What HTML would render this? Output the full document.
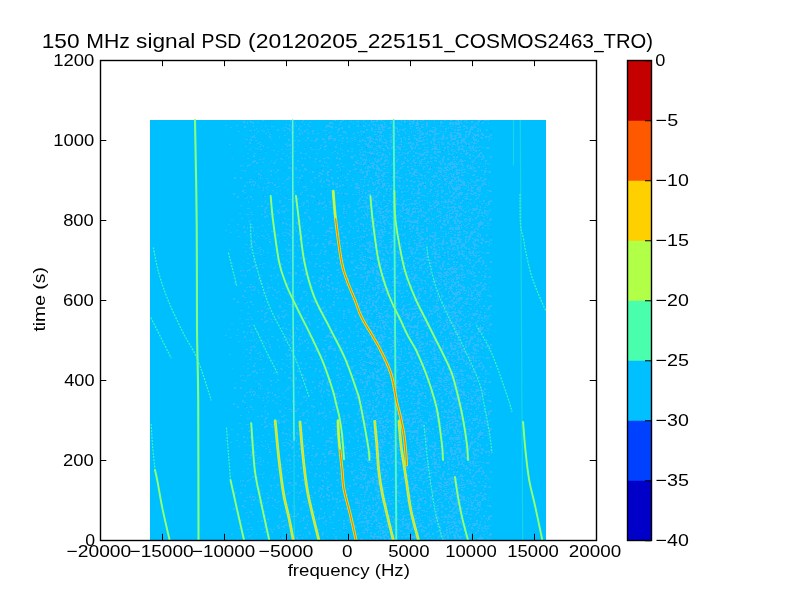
<!DOCTYPE html>
<html><head><meta charset="utf-8"><style>html,body{margin:0;padding:0;background:#fff;width:800px;height:600px;overflow:hidden}svg{display:block;will-change:transform}</style></head>
<body><svg width="800" height="600" viewBox="0 0 800 600"><rect x="150" y="120" width="396" height="420" fill="#00bfff"/><defs><pattern id="nz" patternUnits="userSpaceOnUse" x="205" y="120" width="287" height="105"><path d="M20 5h2v1h-2zM23 104h2v1h-2zM24 24h2v1h-2zM25 7h2v1h-2zM26 99h2v1h-2zM27 38h1v1h-1zM28 73h2v2h-2zM29 57h2v2h-2zM30 53h1v1h-1zM31 5h2v1h-2zM32 104h2v1h-2zM32 76h2v2h-2zM33 11h2v1h-2zM34 93h2v1h-2zM35 57h2v2h-2zM35 85h2v1h-2zM35 45h1v2h-1zM36 98h2v1h-2zM36 50h2v1h-2zM37 70h2v1h-2zM37 70h2v2h-2zM37 45h2v1h-2zM38 22h1v1h-1zM38 1h2v2h-2zM38 36h1v1h-1zM39 72h2v1h-2zM39 65h2v2h-2zM39 6h2v2h-2zM39 50h2v1h-2zM40 51h1v1h-1zM40 26h2v1h-2zM40 19h2v1h-2zM40 78h1v1h-1zM41 19h2v1h-2zM41 77h2v1h-2zM41 62h2v1h-2zM41 10h1v1h-1zM41 94h2v1h-2zM42 2h1v2h-1zM42 88h2v1h-2zM42 38h2v1h-2zM42 33h2v1h-2zM42 45h1v2h-1zM43 81h1v2h-1zM43 97h1v1h-1zM43 94h1v1h-1zM43 45h2v1h-2zM43 101h2v1h-2zM43 88h2v1h-2zM44 44h2v1h-2zM44 29h2v1h-2zM44 61h2v2h-2zM44 61h2v1h-2zM44 10h2v1h-2zM44 100h2v1h-2zM44 22h2v2h-2zM45 92h2v1h-2zM45 10h2v1h-2zM45 16h1v1h-1zM45 59h2v1h-2zM45 76h2v2h-2zM45 19h2v2h-2zM45 1h2v2h-2zM46 17h2v1h-2zM46 27h1v1h-1zM46 64h1v2h-1zM46 69h2v1h-2zM46 94h2v1h-2zM46 104h2v1h-2zM47 16h2v1h-2zM47 2h2v1h-2zM47 99h1v1h-1zM47 79h2v1h-2zM47 41h2v2h-2zM47 61h1v2h-1zM48 5h1v2h-1zM48 3h1v1h-1zM48 64h2v2h-2zM48 35h2v2h-2zM48 61h2v1h-2zM49 33h2v1h-2zM49 17h2v1h-2zM49 40h1v2h-1zM49 9h1v2h-1zM49 15h1v2h-1zM49 46h1v1h-1zM50 28h2v1h-2zM50 62h1v2h-1zM50 20h2v1h-2zM50 51h2v1h-2zM50 40h1v2h-1zM51 42h2v2h-2zM51 8h1v1h-1zM51 13h1v1h-1zM51 99h1v1h-1zM52 86h2v1h-2zM52 65h2v1h-2zM52 11h2v1h-2zM52 23h2v1h-2zM52 2h2v1h-2zM53 28h1v1h-1zM53 58h1v1h-1zM53 53h2v2h-2zM53 67h2v1h-2zM54 33h1v1h-1zM54 39h2v1h-2zM54 26h2v1h-2zM54 22h2v1h-2zM55 24h2v1h-2zM55 57h1v2h-1zM55 55h2v1h-2zM55 50h2v1h-2zM55 29h2v1h-2zM56 81h1v1h-1zM56 6h1v1h-1zM56 94h2v1h-2zM56 10h2v1h-2zM56 85h2v2h-2zM57 58h1v1h-1zM57 0h2v1h-2zM57 70h2v1h-2zM57 39h1v1h-1zM57 42h2v1h-2zM58 25h1v2h-1zM58 11h2v1h-2zM58 38h2v1h-2zM58 67h1v2h-1zM59 76h2v1h-2zM59 63h1v1h-1zM59 82h1v1h-1zM59 91h2v2h-2zM59 89h2v1h-2zM59 96h2v2h-2zM60 87h2v2h-2zM60 88h2v1h-2zM60 5h1v2h-1zM60 13h2v1h-2zM60 80h1v2h-1zM61 95h2v2h-2zM61 67h1v2h-1zM61 32h1v1h-1zM61 96h1v1h-1zM61 58h2v1h-2zM61 87h2v1h-2zM62 9h2v1h-2zM62 83h2v2h-2zM62 72h1v1h-1zM62 62h2v2h-2zM62 27h2v1h-2zM62 66h2v1h-2zM63 70h1v1h-1zM63 60h1v1h-1zM63 104h2v1h-2zM63 49h1v1h-1zM63 11h1v2h-1zM64 16h2v2h-2zM64 14h2v1h-2zM64 62h2v1h-2zM64 62h2v1h-2zM64 93h1v1h-1zM65 42h1v1h-1zM65 50h1v1h-1zM65 94h2v1h-2zM65 50h2v2h-2zM66 96h2v1h-2zM66 6h2v1h-2zM66 19h1v1h-1zM66 40h1v1h-1zM66 54h1v2h-1zM67 70h2v1h-2zM67 6h2v1h-2zM67 96h1v2h-1zM67 62h1v2h-1zM68 43h2v1h-2zM68 94h2v1h-2zM68 30h2v1h-2zM68 50h1v1h-1zM69 64h2v2h-2zM69 42h2v1h-2zM69 24h1v1h-1zM70 40h1v1h-1zM70 72h1v1h-1zM70 52h2v1h-2zM71 34h2v1h-2zM71 73h2v1h-2zM71 67h2v1h-2zM72 49h2v2h-2zM72 39h1v1h-1zM72 90h2v2h-2zM72 9h2v2h-2zM73 31h1v1h-1zM73 66h2v1h-2zM73 92h2v2h-2zM73 58h1v2h-1zM74 16h1v2h-1zM74 82h2v1h-2zM74 80h2v2h-2zM74 89h1v1h-1zM75 74h1v1h-1zM75 38h2v1h-2zM75 82h1v1h-1zM75 70h1v1h-1zM76 39h1v1h-1zM76 86h2v1h-2zM76 29h2v1h-2zM76 29h2v1h-2zM76 91h2v1h-2zM77 102h2v2h-2zM77 8h1v1h-1zM77 39h1v1h-1zM77 33h2v1h-2zM77 63h2v1h-2zM78 85h1v2h-1zM78 76h1v1h-1zM78 7h1v1h-1zM78 91h2v2h-2zM78 10h1v1h-1zM79 67h2v1h-2zM79 85h2v1h-2zM79 42h2v1h-2zM79 10h2v1h-2zM79 15h2v1h-2zM79 98h2v1h-2zM79 90h2v1h-2zM80 24h2v1h-2zM80 60h1v2h-1zM80 103h2v1h-2zM80 4h2v1h-2zM80 7h2v1h-2zM80 77h2v1h-2zM80 78h1v1h-1zM81 35h2v1h-2zM81 29h1v1h-1zM81 59h2v1h-2zM81 104h2v1h-2zM81 23h1v2h-1zM81 88h1v2h-1zM82 58h2v2h-2zM82 25h2v1h-2zM82 8h2v1h-2zM82 69h2v1h-2zM82 13h1v1h-1zM82 26h1v1h-1zM82 90h2v1h-2zM83 79h2v1h-2zM83 99h2v1h-2zM83 37h2v1h-2zM83 47h2v2h-2zM83 56h1v1h-1zM83 19h2v2h-2zM83 8h2v1h-2zM84 29h2v1h-2zM84 4h1v1h-1zM84 104h1v1h-1zM84 5h2v1h-2zM84 24h2v2h-2zM84 9h2v2h-2zM84 57h2v1h-2zM85 0h1v2h-1zM85 79h2v1h-2zM85 43h1v1h-1zM85 32h1v2h-1zM85 26h1v1h-1zM85 47h1v2h-1zM85 26h1v1h-1zM86 12h2v2h-2zM86 81h2v1h-2zM86 50h2v1h-2zM86 36h2v1h-2zM86 6h2v2h-2zM87 102h2v2h-2zM87 93h2v1h-2zM87 55h1v1h-1zM87 11h2v2h-2zM87 70h1v2h-1zM88 73h2v1h-2zM88 21h1v1h-1zM88 66h1v1h-1zM88 62h1v1h-1zM88 5h2v1h-2zM88 81h2v1h-2zM89 20h2v1h-2zM89 78h1v1h-1zM89 27h1v1h-1zM89 20h2v1h-2zM89 31h2v1h-2zM89 71h2v1h-2zM90 49h2v1h-2zM90 80h2v2h-2zM90 74h1v1h-1zM90 47h2v2h-2zM90 2h1v2h-1zM91 57h2v1h-2zM91 103h2v1h-2zM91 16h2v1h-2zM91 102h2v2h-2zM91 5h1v2h-1zM92 40h2v2h-2zM92 96h2v1h-2zM92 100h1v1h-1zM92 78h2v2h-2zM92 24h1v1h-1zM92 103h1v2h-1zM93 8h2v2h-2zM93 20h2v2h-2zM93 104h2v1h-2zM93 61h1v2h-1zM93 64h1v1h-1zM93 25h1v1h-1zM94 86h2v1h-2zM94 100h2v1h-2zM94 6h2v1h-2zM94 57h2v2h-2zM94 13h2v2h-2zM94 50h2v1h-2zM95 73h1v1h-1zM95 10h2v1h-2zM95 95h1v1h-1zM95 32h2v2h-2zM95 74h2v1h-2zM95 95h1v1h-1zM96 55h2v2h-2zM96 6h1v1h-1zM96 83h1v1h-1zM96 72h2v1h-2zM96 45h2v1h-2zM96 38h2v1h-2zM97 102h1v2h-1zM97 12h1v2h-1zM97 85h2v1h-2zM97 1h1v2h-1zM97 44h2v2h-2zM98 66h2v1h-2zM98 0h1v1h-1zM98 51h1v1h-1zM98 99h1v1h-1zM98 84h1v1h-1zM98 66h2v2h-2zM98 82h2v2h-2zM99 38h2v1h-2zM99 92h2v2h-2zM99 48h2v2h-2zM99 10h2v2h-2zM99 28h1v1h-1zM99 4h1v1h-1zM100 33h2v1h-2zM100 70h2v1h-2zM100 66h2v1h-2zM100 33h1v2h-1zM100 20h2v1h-2zM100 49h2v2h-2zM101 80h2v2h-2zM101 68h2v1h-2zM101 89h1v1h-1zM101 92h1v2h-1zM101 101h1v1h-1zM101 9h2v1h-2zM102 13h2v1h-2zM102 18h2v1h-2zM102 17h2v2h-2zM102 89h1v2h-1zM102 75h2v1h-2zM103 85h1v2h-1zM103 13h1v1h-1zM103 4h1v2h-1zM103 96h2v2h-2zM103 12h1v1h-1zM103 82h1v1h-1zM104 2h2v1h-2zM104 6h2v1h-2zM104 98h2v2h-2zM104 36h2v2h-2zM104 52h1v1h-1zM105 60h2v1h-2zM105 27h2v1h-2zM106 62h2v1h-2zM106 75h2v2h-2zM106 20h2v1h-2zM106 29h2v1h-2zM107 10h2v2h-2zM107 13h2v1h-2zM107 51h2v2h-2zM107 82h1v1h-1zM108 69h2v1h-2zM108 80h1v1h-1zM108 76h2v2h-2zM109 41h2v1h-2zM109 57h2v2h-2zM109 21h2v1h-2zM110 29h1v1h-1zM110 89h1v2h-1zM110 38h2v2h-2zM110 19h1v2h-1zM111 20h1v1h-1zM111 33h2v1h-2zM111 84h1v1h-1zM111 18h2v2h-2zM112 13h2v1h-2zM112 101h2v2h-2zM113 94h2v1h-2zM113 55h2v2h-2zM113 82h2v1h-2zM113 83h2v2h-2zM113 29h2v1h-2zM114 40h2v2h-2zM114 53h1v1h-1zM114 80h1v1h-1zM114 61h2v1h-2zM114 52h2v2h-2zM115 83h2v1h-2zM115 62h1v1h-1zM115 27h1v2h-1zM115 25h2v1h-2zM115 73h2v2h-2zM115 60h2v1h-2zM116 66h2v1h-2zM116 58h1v2h-1zM116 65h1v2h-1zM116 45h2v1h-2zM116 53h2v2h-2zM116 45h2v1h-2zM117 51h2v1h-2zM117 50h2v1h-2zM117 99h1v2h-1zM117 82h2v2h-2zM117 18h2v2h-2zM117 104h2v1h-2zM117 97h2v2h-2zM118 45h1v1h-1zM118 87h2v1h-2zM118 61h1v2h-1zM118 45h1v2h-1zM118 61h2v1h-2zM118 10h2v1h-2zM118 38h2v1h-2zM119 41h1v2h-1zM119 81h2v1h-2zM119 26h1v2h-1zM119 77h1v2h-1zM119 29h1v1h-1zM119 19h1v1h-1zM119 21h2v2h-2zM120 85h2v2h-2zM120 25h2v2h-2zM120 10h2v1h-2zM120 14h2v1h-2zM120 29h1v1h-1zM120 7h2v1h-2zM120 89h2v1h-2zM121 59h2v2h-2zM121 37h2v1h-2zM121 86h1v1h-1zM121 5h2v2h-2zM121 42h1v2h-1zM121 96h1v1h-1zM121 53h2v1h-2zM122 46h2v1h-2zM122 70h1v1h-1zM122 54h2v2h-2zM122 37h2v1h-2zM122 51h2v2h-2zM122 64h2v1h-2zM122 101h1v1h-1zM123 16h2v2h-2zM123 5h2v2h-2zM123 51h2v2h-2zM123 38h1v1h-1zM123 60h2v2h-2zM123 64h2v2h-2zM123 18h2v2h-2zM124 87h1v1h-1zM124 81h2v2h-2zM124 12h2v1h-2zM124 17h2v2h-2zM124 38h1v1h-1zM124 2h2v2h-2zM125 6h2v2h-2zM125 15h2v2h-2zM125 49h2v2h-2zM125 84h1v1h-1zM125 70h1v1h-1zM126 87h2v1h-2zM126 11h1v1h-1zM126 2h2v2h-2zM126 57h2v2h-2zM126 6h2v2h-2zM126 18h2v1h-2zM127 63h2v2h-2zM127 32h1v2h-1zM127 7h1v2h-1zM127 79h1v1h-1zM127 93h2v1h-2zM127 62h2v1h-2zM128 93h2v1h-2zM128 18h1v1h-1zM128 20h2v1h-2zM128 99h2v1h-2zM128 72h2v1h-2zM128 79h2v2h-2zM128 76h2v2h-2zM129 19h2v1h-2zM129 31h2v1h-2zM129 77h1v1h-1zM129 0h2v1h-2zM129 20h2v1h-2zM129 18h2v1h-2zM130 103h2v2h-2zM130 63h2v2h-2zM130 70h2v1h-2zM130 96h2v1h-2zM130 7h2v1h-2zM130 26h2v2h-2zM130 101h2v1h-2zM131 45h1v1h-1zM131 66h2v2h-2zM131 64h2v1h-2zM131 24h1v1h-1zM131 37h2v2h-2zM131 51h2v1h-2zM131 63h2v1h-2zM132 10h1v1h-1zM132 44h2v2h-2zM132 12h1v1h-1zM132 72h2v2h-2zM132 33h2v1h-2zM132 57h2v2h-2zM132 32h1v1h-1zM133 10h1v1h-1zM133 47h2v1h-2zM133 8h2v2h-2zM133 15h2v1h-2zM133 72h1v2h-1zM133 85h2v1h-2zM133 20h2v1h-2zM134 4h2v1h-2zM134 70h1v1h-1zM134 65h2v2h-2zM134 61h1v1h-1zM134 96h1v1h-1zM134 38h2v2h-2zM134 83h1v1h-1zM135 15h2v1h-2zM135 56h1v1h-1zM135 1h2v2h-2zM135 102h1v1h-1zM135 28h1v2h-1zM135 95h1v1h-1zM135 49h1v2h-1zM135 43h2v1h-2zM136 18h2v1h-2zM136 23h2v1h-2zM136 18h2v1h-2zM136 73h2v1h-2zM136 33h2v1h-2zM136 61h1v1h-1zM136 7h2v2h-2zM137 36h1v1h-1zM137 46h2v1h-2zM137 30h1v1h-1zM137 20h1v2h-1zM137 18h2v1h-2zM137 64h2v2h-2zM137 0h2v1h-2zM137 55h1v1h-1zM138 17h1v2h-1zM138 91h1v1h-1zM138 11h2v2h-2zM138 35h1v1h-1zM138 85h2v2h-2zM138 88h2v2h-2zM138 92h1v2h-1zM139 97h2v1h-2zM139 34h1v1h-1zM139 46h1v1h-1zM139 73h2v1h-2zM139 57h2v1h-2zM139 91h1v1h-1zM140 73h1v1h-1zM140 93h2v1h-2zM140 11h1v2h-1zM140 13h2v1h-2zM140 3h1v1h-1zM141 73h2v2h-2zM141 56h1v1h-1zM141 91h1v1h-1zM141 59h2v2h-2zM141 35h1v1h-1zM141 17h2v2h-2zM142 85h2v1h-2zM142 21h1v2h-1zM142 53h2v2h-2zM142 50h1v1h-1zM142 30h2v2h-2zM143 102h2v1h-2zM143 6h2v2h-2zM143 87h2v1h-2zM143 84h2v1h-2zM143 67h1v1h-1zM144 50h2v2h-2zM144 5h1v2h-1zM144 86h2v1h-2zM144 103h1v2h-1zM145 1h2v1h-2zM145 36h1v1h-1zM145 21h1v1h-1zM145 65h2v1h-2zM146 18h2v1h-2zM146 37h2v2h-2zM146 31h2v1h-2zM146 36h2v2h-2zM146 28h2v1h-2zM147 58h2v1h-2zM147 60h2v1h-2zM147 28h1v2h-1zM147 74h2v1h-2zM147 20h1v1h-1zM148 36h1v1h-1zM148 2h1v2h-1zM148 44h2v2h-2zM148 49h2v1h-2zM148 13h2v1h-2zM149 19h2v1h-2zM149 17h2v1h-2zM149 35h2v1h-2zM149 95h2v1h-2zM149 90h2v2h-2zM149 13h1v1h-1zM150 63h2v2h-2zM150 100h2v2h-2zM150 48h2v2h-2zM150 92h2v1h-2zM150 67h2v2h-2zM150 41h1v2h-1zM150 63h2v1h-2zM151 102h1v1h-1zM151 74h1v1h-1zM151 42h2v2h-2zM151 41h1v1h-1zM151 1h1v1h-1zM151 63h2v2h-2zM151 68h2v1h-2zM151 66h2v2h-2zM152 5h2v2h-2zM152 1h2v1h-2zM152 12h2v1h-2zM152 83h2v2h-2zM152 24h2v1h-2zM152 98h2v2h-2zM152 67h2v1h-2zM152 40h2v1h-2zM152 65h1v1h-1zM153 43h2v1h-2zM153 67h2v2h-2zM153 24h2v1h-2zM153 72h2v1h-2zM153 80h2v2h-2zM153 52h1v1h-1zM153 88h2v1h-2zM153 3h1v1h-1zM153 70h2v1h-2zM153 68h2v1h-2zM154 15h1v1h-1zM154 65h1v1h-1zM154 21h2v1h-2zM154 78h2v1h-2zM154 87h2v1h-2zM154 30h2v1h-2zM154 34h2v1h-2zM154 74h1v1h-1zM154 79h2v1h-2zM154 50h2v1h-2zM154 79h1v1h-1zM154 20h2v1h-2zM155 104h2v1h-2zM155 32h2v1h-2zM155 49h2v2h-2zM155 52h2v1h-2zM155 62h1v1h-1zM155 21h2v1h-2zM155 37h2v2h-2zM155 42h2v1h-2zM155 83h1v1h-1zM155 44h2v1h-2zM155 59h2v1h-2zM155 103h1v1h-1zM155 11h1v1h-1zM156 71h2v1h-2zM156 103h1v1h-1zM156 27h2v1h-2zM156 74h1v1h-1zM156 64h1v1h-1zM156 86h1v2h-1zM156 76h2v2h-2zM156 68h1v1h-1zM156 27h1v1h-1zM156 11h2v1h-2zM156 97h2v1h-2zM156 90h1v2h-1zM156 29h2v1h-2zM156 13h1v2h-1zM157 97h2v1h-2zM157 39h1v1h-1zM157 104h2v1h-2zM157 51h2v2h-2zM157 86h2v2h-2zM157 52h1v2h-1zM157 59h1v1h-1zM157 80h1v1h-1zM157 34h2v2h-2zM157 86h1v1h-1zM157 20h2v1h-2zM157 19h2v2h-2zM157 39h2v2h-2zM157 72h1v2h-1zM157 66h2v1h-2zM158 0h1v2h-1zM158 5h2v2h-2zM158 31h2v1h-2zM158 40h1v1h-1zM158 11h2v2h-2zM158 95h2v1h-2zM158 11h2v1h-2zM158 43h2v2h-2zM158 80h2v1h-2zM158 86h2v1h-2zM158 65h1v1h-1zM158 5h2v2h-2zM158 69h1v2h-1zM158 33h1v1h-1zM158 44h2v1h-2zM158 39h1v1h-1zM159 61h1v2h-1zM159 65h2v1h-2zM159 82h2v2h-2zM159 90h1v2h-1zM159 42h2v1h-2zM159 97h1v2h-1zM159 76h2v1h-2zM159 62h1v1h-1zM159 35h2v1h-2zM159 39h2v1h-2zM159 56h2v2h-2zM159 21h2v1h-2zM159 59h2v1h-2zM159 42h2v2h-2zM159 82h2v1h-2zM160 41h1v1h-1zM160 82h2v2h-2zM160 93h2v2h-2zM160 31h1v1h-1zM160 3h2v1h-2zM160 23h2v2h-2zM160 87h1v1h-1zM160 39h2v2h-2zM160 23h2v1h-2zM160 47h1v2h-1zM160 32h1v1h-1zM160 72h2v2h-2zM160 6h1v1h-1zM160 93h1v1h-1zM160 80h1v1h-1zM160 20h1v1h-1zM160 51h1v1h-1zM161 78h2v1h-2zM161 9h2v1h-2zM161 53h2v1h-2zM161 85h1v2h-1zM161 37h1v1h-1zM161 86h2v2h-2zM161 10h2v1h-2zM161 54h2v2h-2zM161 51h2v2h-2zM161 103h1v2h-1zM161 77h2v1h-2zM161 53h2v1h-2zM161 17h2v1h-2zM161 81h1v1h-1zM161 94h2v2h-2zM162 47h2v2h-2zM162 46h2v1h-2zM162 50h2v1h-2zM162 25h2v2h-2zM162 32h2v1h-2zM162 85h2v2h-2zM162 70h2v1h-2zM162 89h1v2h-1zM162 75h2v1h-2zM162 86h1v1h-1zM162 64h2v2h-2zM162 96h1v2h-1zM162 92h2v1h-2zM162 87h2v2h-2zM162 24h2v1h-2zM162 17h2v2h-2zM163 47h1v1h-1zM163 27h2v1h-2zM163 17h2v1h-2zM163 25h2v1h-2zM163 45h1v1h-1zM163 32h1v1h-1zM163 94h2v1h-2zM163 5h2v1h-2zM163 70h2v2h-2zM163 86h1v1h-1zM163 88h2v1h-2zM163 74h2v1h-2zM163 62h1v1h-1zM163 23h1v2h-1zM164 85h2v1h-2zM164 32h2v2h-2zM164 19h2v2h-2zM164 4h1v1h-1zM164 104h2v2h-2zM164 60h1v2h-1zM164 50h1v2h-1zM164 46h2v2h-2zM164 16h2v2h-2zM164 21h2v2h-2zM164 73h2v1h-2zM164 40h1v1h-1zM164 42h1v1h-1zM164 77h1v2h-1zM164 85h1v1h-1zM165 33h2v2h-2zM165 74h1v2h-1zM165 71h1v1h-1zM165 81h2v2h-2zM165 101h2v1h-2zM165 18h2v1h-2zM165 97h2v2h-2zM165 81h1v1h-1zM165 91h2v1h-2zM165 43h2v1h-2zM165 100h2v2h-2zM165 31h1v1h-1zM165 26h1v2h-1zM165 57h2v2h-2zM165 21h2v1h-2zM166 32h2v2h-2zM166 43h1v1h-1zM166 10h2v1h-2zM166 45h2v1h-2zM166 88h2v2h-2zM166 8h2v1h-2zM166 21h2v1h-2zM166 2h1v1h-1zM166 25h2v1h-2zM166 82h1v1h-1zM166 7h1v2h-1zM166 9h2v1h-2zM166 0h1v1h-1zM166 1h2v1h-2zM166 27h2v1h-2zM167 62h2v2h-2zM167 43h1v1h-1zM167 101h1v1h-1zM167 42h2v2h-2zM167 59h1v1h-1zM167 72h2v1h-2zM167 78h2v2h-2zM167 20h1v1h-1zM167 18h2v1h-2zM167 46h2v1h-2zM167 75h2v1h-2zM167 77h2v1h-2zM167 79h2v2h-2zM167 4h2v1h-2zM167 70h2v1h-2zM167 46h2v2h-2zM168 1h2v1h-2zM168 103h2v1h-2zM168 29h2v1h-2zM168 79h1v1h-1zM168 64h1v2h-1zM168 33h2v1h-2zM168 22h2v1h-2zM168 44h2v1h-2zM168 63h1v2h-1zM168 102h2v1h-2zM168 101h1v1h-1zM168 1h1v2h-1zM168 86h2v1h-2zM168 48h2v1h-2zM168 80h1v1h-1zM168 33h2v1h-2zM168 45h1v1h-1zM169 38h2v1h-2zM169 101h1v1h-1zM169 98h2v1h-2zM169 31h1v1h-1zM169 76h2v1h-2zM169 100h1v2h-1zM169 99h2v1h-2zM169 14h1v1h-1zM169 38h1v2h-1zM169 12h1v1h-1zM169 11h2v1h-2zM169 85h2v1h-2zM169 4h2v1h-2zM169 80h2v1h-2zM169 64h2v1h-2zM170 40h1v1h-1zM170 62h1v2h-1zM170 22h1v2h-1zM170 81h2v2h-2zM170 14h2v1h-2zM170 9h2v1h-2zM170 28h2v1h-2zM170 22h1v1h-1zM170 5h1v2h-1zM170 101h2v1h-2zM170 41h2v1h-2zM170 69h2v2h-2zM170 52h2v2h-2zM170 54h2v2h-2zM170 19h2v1h-2zM170 77h2v1h-2zM170 93h2v1h-2zM170 84h1v1h-1zM171 91h1v1h-1zM171 41h2v2h-2zM171 85h2v1h-2zM171 0h2v2h-2zM171 60h2v1h-2zM171 48h1v2h-1zM171 48h2v2h-2zM171 67h2v2h-2zM171 41h1v2h-1zM171 85h1v2h-1zM171 33h2v2h-2zM171 75h2v2h-2zM171 18h1v2h-1zM171 26h2v1h-2zM171 30h2v1h-2zM171 84h2v1h-2zM171 83h1v1h-1zM171 104h2v1h-2zM171 89h2v1h-2zM171 45h2v2h-2zM172 11h2v1h-2zM172 57h2v1h-2zM172 61h2v1h-2zM172 19h1v2h-1zM172 62h2v2h-2zM172 47h2v1h-2zM172 32h1v2h-1zM172 73h2v1h-2zM172 39h2v2h-2zM172 41h2v1h-2zM172 56h1v2h-1zM172 11h1v1h-1zM172 101h2v2h-2zM172 5h2v1h-2zM172 5h2v1h-2zM172 55h2v2h-2zM172 45h1v1h-1zM172 16h2v1h-2zM172 91h2v1h-2zM172 26h2v1h-2zM173 50h2v1h-2zM173 82h1v1h-1zM173 59h2v2h-2zM173 53h2v1h-2zM173 56h2v1h-2zM173 96h1v2h-1zM173 25h2v2h-2zM173 87h2v2h-2zM173 49h2v1h-2zM173 9h2v1h-2zM173 11h1v2h-1zM173 87h1v2h-1zM173 7h2v2h-2zM173 74h1v1h-1zM173 80h1v1h-1zM173 66h1v1h-1zM173 35h2v1h-2zM173 49h2v2h-2zM173 71h2v2h-2zM173 87h1v1h-1zM173 48h2v2h-2zM174 6h1v2h-1zM174 59h2v1h-2zM174 18h2v1h-2zM174 90h2v2h-2zM174 40h1v2h-1zM174 72h2v1h-2zM174 101h2v1h-2zM174 26h2v2h-2zM174 93h2v1h-2zM174 7h1v1h-1zM174 15h1v1h-1zM174 9h2v1h-2zM174 92h2v2h-2zM174 63h1v2h-1zM174 95h2v1h-2zM174 20h1v2h-1zM174 12h2v1h-2zM174 11h1v1h-1zM174 32h2v1h-2zM174 19h1v2h-1zM174 20h2v1h-2zM175 102h2v2h-2zM175 19h2v1h-2zM175 27h1v2h-1zM175 50h1v1h-1zM175 82h2v1h-2zM175 88h1v1h-1zM175 93h1v1h-1zM175 51h1v1h-1zM175 15h2v1h-2zM175 67h2v1h-2zM175 44h1v1h-1zM175 11h1v1h-1zM175 38h2v2h-2zM175 11h1v1h-1zM175 98h1v2h-1zM175 4h2v2h-2zM175 0h2v1h-2zM175 84h2v1h-2zM175 44h2v1h-2zM175 95h2v1h-2zM175 38h1v2h-1zM175 12h2v2h-2zM176 50h2v1h-2zM176 65h2v1h-2zM176 89h1v1h-1zM176 45h1v1h-1zM176 93h1v1h-1zM176 11h2v1h-2zM176 61h2v1h-2zM176 13h1v1h-1zM176 34h2v2h-2zM176 59h1v1h-1zM176 5h2v1h-2zM176 25h2v1h-2zM176 16h1v2h-1zM176 6h2v2h-2zM176 88h2v1h-2zM176 21h1v1h-1zM176 54h2v2h-2zM176 37h2v1h-2zM176 74h1v1h-1zM177 65h2v1h-2zM177 9h2v1h-2zM177 5h1v2h-1zM177 22h2v1h-2zM177 97h2v2h-2zM177 1h2v1h-2zM177 4h1v1h-1zM177 65h2v1h-2zM177 44h1v1h-1zM177 28h2v1h-2zM177 8h1v1h-1zM177 67h2v1h-2zM177 81h1v1h-1zM177 6h2v1h-2zM177 91h2v2h-2zM177 63h2v2h-2zM177 33h2v1h-2zM177 95h2v2h-2zM177 55h2v2h-2zM177 65h2v2h-2zM178 80h1v1h-1zM178 100h2v1h-2zM178 75h2v2h-2zM178 63h2v2h-2zM178 6h2v2h-2zM178 101h2v2h-2zM178 43h2v1h-2zM178 29h2v2h-2zM178 43h2v2h-2zM178 54h2v1h-2zM178 77h1v1h-1zM178 60h2v1h-2zM178 58h1v1h-1zM178 10h2v1h-2zM178 79h1v1h-1zM178 34h1v2h-1zM178 52h2v2h-2zM178 15h1v2h-1zM178 48h1v1h-1zM179 46h1v1h-1zM179 104h2v1h-2zM179 40h2v2h-2zM179 22h1v1h-1zM179 103h2v1h-2zM179 86h1v2h-1zM179 96h2v2h-2zM179 96h2v2h-2zM179 65h2v1h-2zM179 37h2v1h-2zM179 80h2v1h-2zM179 103h2v1h-2zM179 63h2v1h-2zM179 2h1v2h-1zM179 48h2v1h-2zM179 19h2v2h-2zM179 4h2v1h-2zM180 34h1v1h-1zM180 73h2v1h-2zM180 22h2v2h-2zM180 35h2v1h-2zM180 69h1v1h-1zM180 52h2v1h-2zM180 86h2v1h-2zM180 90h2v2h-2zM180 41h1v2h-1zM180 6h2v1h-2zM180 25h2v1h-2zM180 94h2v1h-2zM180 6h2v1h-2zM180 99h2v2h-2zM180 39h2v1h-2zM180 56h2v1h-2zM181 40h2v1h-2zM181 26h2v1h-2zM181 52h2v1h-2zM181 40h1v1h-1zM181 68h2v2h-2zM181 85h2v1h-2zM181 46h2v1h-2zM181 36h2v1h-2zM181 98h1v1h-1zM181 89h2v1h-2zM181 46h2v1h-2zM181 70h1v2h-1zM181 52h2v1h-2zM181 21h2v1h-2zM182 88h1v1h-1zM182 101h2v1h-2zM182 63h2v1h-2zM182 91h1v2h-1zM182 52h2v1h-2zM182 43h2v1h-2zM182 8h2v1h-2zM182 85h1v2h-1zM182 27h2v2h-2zM182 86h1v1h-1zM182 96h1v2h-1zM182 36h1v2h-1zM182 83h2v1h-2zM183 90h2v2h-2zM183 91h1v2h-1zM183 65h2v2h-2zM183 28h2v1h-2zM183 66h1v1h-1zM183 41h1v1h-1zM183 97h1v1h-1zM183 7h2v2h-2zM183 103h1v1h-1zM183 59h1v1h-1zM183 80h2v1h-2zM184 71h1v1h-1zM184 103h2v2h-2zM184 28h1v1h-1zM184 34h2v1h-2zM184 80h2v2h-2zM184 14h2v1h-2zM184 75h2v1h-2zM184 7h2v2h-2zM184 32h1v2h-1zM184 17h2v1h-2zM184 90h2v1h-2zM185 14h2v1h-2zM185 24h1v2h-1zM185 2h2v1h-2zM185 95h1v1h-1zM185 96h2v1h-2zM185 2h2v2h-2zM185 2h1v1h-1zM185 1h2v2h-2zM185 68h2v2h-2zM185 20h2v2h-2zM185 45h2v1h-2zM185 22h2v1h-2zM186 91h2v1h-2zM186 19h2v1h-2zM186 10h2v1h-2zM186 16h1v2h-1zM186 65h2v1h-2zM186 84h1v1h-1zM186 104h2v1h-2zM186 92h2v1h-2zM186 27h2v2h-2zM186 3h1v1h-1zM187 73h2v1h-2zM187 43h2v2h-2zM187 26h2v1h-2zM187 12h2v1h-2zM187 56h2v2h-2zM187 81h2v2h-2zM187 97h1v2h-1zM187 6h2v1h-2zM187 86h2v1h-2zM187 60h2v1h-2zM187 15h2v2h-2zM188 102h1v1h-1zM188 100h2v1h-2zM188 94h2v1h-2zM188 25h1v1h-1zM188 51h1v1h-1zM188 5h2v2h-2zM188 52h2v1h-2zM188 2h2v1h-2zM188 90h1v1h-1zM188 67h1v2h-1zM188 13h2v1h-2zM188 0h1v1h-1zM188 10h2v2h-2zM189 102h2v1h-2zM189 84h2v2h-2zM189 50h2v1h-2zM189 26h1v1h-1zM189 103h2v1h-2zM189 83h2v1h-2zM189 14h2v1h-2zM189 45h2v1h-2zM189 30h1v1h-1zM189 38h2v1h-2zM189 77h2v1h-2zM189 0h1v1h-1zM189 87h2v2h-2zM190 52h2v2h-2zM190 97h2v1h-2zM190 7h2v2h-2zM190 87h1v1h-1zM190 7h1v2h-1zM190 56h2v2h-2zM190 48h1v1h-1zM190 83h2v1h-2zM190 96h2v1h-2zM190 29h2v1h-2zM190 42h1v1h-1zM190 101h1v2h-1zM191 40h2v2h-2zM191 8h2v1h-2zM191 20h1v2h-1zM191 84h2v1h-2zM191 52h2v2h-2zM191 80h1v2h-1zM191 36h1v2h-1zM191 91h1v1h-1zM191 78h2v1h-2zM191 95h2v1h-2zM191 32h1v1h-1zM191 26h2v1h-2zM191 83h2v2h-2zM191 83h1v2h-1zM192 9h1v2h-1zM192 1h1v1h-1zM192 71h1v2h-1zM192 65h2v1h-2zM192 57h1v1h-1zM192 50h2v2h-2zM192 56h2v1h-2zM192 58h2v1h-2zM192 3h2v1h-2zM192 26h2v2h-2zM192 79h1v1h-1zM192 11h1v2h-1zM192 39h2v1h-2zM192 18h2v1h-2zM193 32h2v1h-2zM193 28h1v1h-1zM193 34h1v1h-1zM193 92h1v1h-1zM193 94h2v1h-2zM193 66h2v1h-2zM193 101h1v1h-1zM193 97h1v1h-1zM193 28h2v1h-2zM193 60h2v1h-2zM193 84h2v1h-2zM193 3h2v1h-2zM193 14h2v2h-2zM193 11h2v1h-2zM194 29h2v1h-2zM194 24h1v1h-1zM194 60h1v1h-1zM194 9h2v1h-2zM194 27h2v2h-2zM194 48h1v1h-1zM194 67h1v1h-1zM194 65h2v1h-2zM194 61h2v1h-2zM194 58h2v1h-2zM194 57h2v1h-2zM194 35h2v1h-2zM194 90h2v1h-2zM194 65h1v2h-1zM194 65h1v2h-1zM195 68h2v1h-2zM195 85h2v1h-2zM195 18h2v1h-2zM195 47h2v2h-2zM195 29h1v2h-1zM195 92h1v1h-1zM195 4h2v1h-2zM195 24h2v2h-2zM195 21h1v1h-1zM195 29h1v1h-1zM195 95h2v2h-2zM195 79h1v1h-1zM195 25h2v1h-2zM196 96h2v1h-2zM196 43h2v2h-2zM196 72h2v1h-2zM196 0h1v2h-1zM196 77h2v1h-2zM196 91h2v1h-2zM196 71h1v1h-1zM196 19h1v2h-1zM196 41h1v1h-1zM196 21h1v2h-1zM196 101h2v1h-2zM196 84h1v1h-1zM196 34h2v1h-2zM196 55h1v1h-1zM197 96h1v1h-1zM197 67h2v1h-2zM197 83h2v2h-2zM197 57h1v1h-1zM197 75h2v1h-2zM197 71h1v1h-1zM197 32h2v1h-2zM197 88h2v2h-2zM197 46h2v1h-2zM197 9h2v2h-2zM197 87h2v1h-2zM197 102h1v1h-1zM197 86h2v2h-2zM198 41h1v1h-1zM198 26h2v1h-2zM198 17h2v1h-2zM198 90h2v1h-2zM198 98h2v1h-2zM198 81h1v1h-1zM198 65h1v1h-1zM198 82h1v1h-1zM198 42h2v2h-2zM198 90h2v1h-2zM198 61h2v1h-2zM198 99h1v1h-1zM198 80h2v2h-2zM199 90h2v1h-2zM199 38h2v1h-2zM199 8h2v1h-2zM199 98h2v1h-2zM199 1h2v2h-2zM199 71h2v1h-2zM199 0h1v1h-1zM199 0h1v1h-1zM199 10h1v1h-1zM199 42h1v2h-1zM199 37h2v2h-2zM199 33h2v1h-2zM200 33h1v1h-1zM200 89h2v1h-2zM200 93h2v1h-2zM200 18h1v2h-1zM200 71h1v1h-1zM200 54h2v1h-2zM200 29h2v1h-2zM200 12h1v2h-1zM200 101h2v1h-2zM200 101h1v2h-1zM200 84h2v2h-2zM200 1h1v2h-1zM201 58h1v1h-1zM201 66h2v1h-2zM201 65h2v1h-2zM201 88h2v2h-2zM201 23h1v1h-1zM201 33h1v1h-1zM201 59h2v2h-2zM201 89h2v1h-2zM201 92h2v1h-2zM201 40h1v1h-1zM201 65h1v1h-1zM201 80h1v1h-1zM202 100h2v2h-2zM202 46h2v2h-2zM202 39h1v1h-1zM202 79h2v1h-2zM202 32h2v2h-2zM202 40h2v2h-2zM202 90h2v2h-2zM202 92h2v2h-2zM202 98h2v1h-2zM202 35h1v1h-1zM202 71h1v1h-1zM202 79h1v1h-1zM203 84h2v1h-2zM203 18h2v2h-2zM203 94h1v1h-1zM203 98h2v1h-2zM203 89h1v1h-1zM203 68h2v1h-2zM203 22h2v1h-2zM203 46h1v1h-1zM203 70h1v1h-1zM203 94h2v1h-2zM203 23h2v1h-2zM203 50h2v1h-2zM203 16h2v1h-2zM204 104h2v1h-2zM204 3h2v2h-2zM204 89h1v2h-1zM204 22h2v2h-2zM204 87h1v2h-1zM204 0h1v2h-1zM204 100h2v2h-2zM204 4h2v1h-2zM204 104h2v1h-2zM204 79h2v1h-2zM204 14h1v1h-1zM204 52h2v2h-2zM204 31h2v1h-2zM205 96h1v1h-1zM205 83h2v1h-2zM205 39h1v1h-1zM205 43h2v1h-2zM205 22h2v1h-2zM205 95h2v2h-2zM205 6h2v1h-2zM205 60h2v2h-2zM205 27h2v1h-2zM205 8h1v1h-1zM205 3h1v1h-1zM205 78h1v1h-1zM205 25h2v2h-2zM205 102h2v1h-2zM206 73h2v1h-2zM206 93h2v2h-2zM206 73h1v2h-1zM206 66h1v1h-1zM206 1h2v1h-2zM206 46h2v1h-2zM206 84h2v1h-2zM206 72h1v1h-1zM206 55h1v2h-1zM206 11h1v2h-1zM206 65h2v1h-2zM206 101h2v2h-2zM206 28h2v2h-2zM206 48h2v2h-2zM207 41h2v1h-2zM207 23h2v2h-2zM207 1h2v1h-2zM207 48h2v1h-2zM207 83h2v1h-2zM207 46h1v1h-1zM207 2h2v2h-2zM207 27h2v1h-2zM207 71h1v1h-1zM207 56h1v1h-1zM207 88h2v2h-2zM207 53h1v2h-1zM207 6h1v1h-1zM207 91h1v2h-1zM207 68h2v1h-2zM208 77h1v1h-1zM208 92h2v1h-2zM208 91h2v2h-2zM208 54h2v1h-2zM208 0h2v1h-2zM208 101h2v2h-2zM208 40h2v1h-2zM208 69h2v1h-2zM208 31h1v1h-1zM208 52h2v2h-2zM208 39h1v2h-1zM208 10h1v1h-1zM208 15h2v1h-2zM208 61h2v2h-2zM208 35h2v2h-2zM208 75h2v1h-2zM209 45h2v1h-2zM209 51h1v1h-1zM209 42h2v2h-2zM209 50h2v1h-2zM209 73h2v1h-2zM209 100h2v1h-2zM209 80h2v2h-2zM209 55h2v1h-2zM209 83h2v2h-2zM209 87h1v2h-1zM209 51h2v2h-2zM209 28h2v1h-2zM209 51h2v1h-2zM209 17h1v2h-1zM209 61h2v1h-2zM209 66h1v1h-1zM209 101h2v2h-2zM210 32h2v2h-2zM210 100h2v1h-2zM210 49h1v1h-1zM210 80h2v1h-2zM210 42h2v1h-2zM210 88h2v1h-2zM210 26h1v2h-1zM210 18h2v1h-2zM210 55h2v1h-2zM210 92h1v1h-1zM210 11h1v1h-1zM210 5h2v1h-2zM210 49h2v1h-2zM210 90h1v2h-1zM210 38h1v1h-1zM210 15h1v1h-1zM210 88h2v1h-2zM211 23h1v2h-1zM211 25h2v1h-2zM211 55h2v1h-2zM211 57h1v1h-1zM211 86h2v1h-2zM211 19h2v2h-2zM211 7h2v2h-2zM211 4h2v2h-2zM211 73h1v1h-1zM211 2h2v2h-2zM211 50h2v1h-2zM211 100h2v2h-2zM211 22h2v1h-2zM211 82h1v2h-1zM211 100h2v2h-2zM211 102h2v1h-2zM211 24h2v1h-2zM211 52h2v1h-2zM212 78h1v1h-1zM212 24h2v1h-2zM212 100h2v1h-2zM212 88h2v1h-2zM212 71h2v2h-2zM212 73h2v1h-2zM212 10h2v1h-2zM212 97h1v2h-1zM212 37h2v2h-2zM212 0h1v2h-1zM212 13h2v1h-2zM212 77h2v1h-2zM212 103h2v1h-2zM212 83h2v1h-2zM212 92h2v1h-2zM212 33h2v1h-2zM212 65h2v2h-2zM212 73h2v2h-2zM212 58h2v1h-2zM213 60h1v1h-1zM213 18h2v1h-2zM213 69h2v2h-2zM213 45h2v1h-2zM213 33h2v1h-2zM213 3h1v1h-1zM213 4h1v1h-1zM213 91h1v2h-1zM213 77h1v1h-1zM213 97h1v2h-1zM213 64h2v1h-2zM213 28h2v1h-2zM213 7h1v1h-1zM213 78h2v1h-2zM213 68h2v1h-2zM213 53h2v1h-2zM213 95h2v1h-2zM213 61h2v1h-2zM213 20h2v2h-2zM214 21h1v1h-1zM214 34h2v1h-2zM214 63h2v1h-2zM214 12h2v1h-2zM214 17h2v2h-2zM214 42h2v2h-2zM214 40h1v1h-1zM214 15h2v1h-2zM214 72h2v2h-2zM214 81h1v2h-1zM214 85h2v1h-2zM214 77h1v1h-1zM214 90h1v2h-1zM214 8h2v1h-2zM214 9h1v2h-1zM214 15h1v2h-1zM214 36h1v1h-1zM214 91h2v1h-2zM215 11h2v1h-2zM215 88h1v2h-1zM215 90h2v2h-2zM215 1h2v1h-2zM215 28h1v1h-1zM215 34h2v2h-2zM215 41h2v1h-2zM215 89h1v1h-1zM215 89h2v1h-2zM215 34h2v1h-2zM215 84h1v1h-1zM215 54h2v2h-2zM215 20h2v2h-2zM215 17h2v1h-2zM215 18h1v1h-1zM215 14h2v1h-2zM215 64h2v2h-2zM215 63h2v1h-2zM216 7h1v1h-1zM216 96h1v1h-1zM216 45h1v1h-1zM216 75h2v1h-2zM216 97h1v1h-1zM216 6h2v2h-2zM216 4h2v1h-2zM216 33h1v1h-1zM216 43h2v1h-2zM216 39h1v2h-1zM216 57h1v2h-1zM216 39h2v1h-2zM216 13h2v2h-2zM216 21h2v1h-2zM216 94h2v2h-2zM216 80h1v1h-1zM217 13h2v2h-2zM217 24h2v1h-2zM217 85h1v1h-1zM217 58h1v1h-1zM217 0h2v1h-2zM217 12h1v1h-1zM217 87h2v1h-2zM217 34h2v2h-2zM217 4h2v1h-2zM217 55h1v1h-1zM217 7h2v1h-2zM217 80h1v1h-1zM217 62h2v1h-2zM217 63h2v1h-2zM217 75h2v1h-2zM218 23h2v2h-2zM218 91h1v1h-1zM218 30h1v1h-1zM218 92h2v1h-2zM218 46h2v2h-2zM218 20h2v1h-2zM218 16h1v2h-1zM218 30h2v1h-2zM218 33h2v1h-2zM218 48h1v2h-1zM218 19h1v1h-1zM218 39h2v1h-2zM218 95h2v2h-2zM219 100h2v2h-2zM219 66h1v1h-1zM219 16h2v1h-2zM219 75h1v2h-1zM219 55h2v2h-2zM219 68h2v1h-2zM219 80h2v1h-2zM219 66h2v1h-2zM219 65h2v1h-2zM219 37h2v2h-2zM219 32h2v1h-2zM219 27h2v1h-2zM220 58h2v1h-2zM220 93h2v1h-2zM220 100h2v2h-2zM220 32h2v1h-2zM220 34h2v1h-2zM220 52h1v1h-1zM220 67h2v1h-2zM220 29h2v1h-2zM220 92h2v2h-2zM220 13h2v1h-2zM220 62h1v2h-1zM220 43h2v1h-2zM221 19h2v1h-2zM221 45h2v1h-2zM221 31h2v1h-2zM221 6h2v1h-2zM221 98h2v2h-2zM221 34h2v2h-2zM221 76h2v1h-2zM221 23h2v1h-2zM221 14h2v1h-2zM221 4h2v2h-2zM221 2h2v2h-2zM222 12h1v2h-1zM222 30h1v1h-1zM222 73h2v1h-2zM222 41h2v2h-2zM222 11h2v1h-2zM222 27h2v1h-2zM222 46h1v1h-1zM222 51h1v2h-1zM222 31h2v2h-2zM222 81h1v2h-1zM222 103h2v1h-2zM223 59h1v1h-1zM223 59h1v2h-1zM223 99h2v1h-2zM223 49h1v1h-1zM223 97h2v1h-2zM223 11h2v1h-2zM223 88h1v1h-1zM223 52h2v1h-2zM223 89h2v2h-2zM223 91h1v1h-1zM224 47h2v2h-2zM224 49h2v1h-2zM224 71h2v1h-2zM224 10h2v2h-2zM224 14h2v2h-2zM224 82h2v1h-2zM224 14h2v1h-2zM224 84h1v2h-1zM224 46h2v1h-2zM224 101h2v1h-2zM225 41h2v1h-2zM225 63h2v1h-2zM225 69h1v1h-1zM225 88h1v1h-1zM225 64h1v2h-1zM225 21h2v2h-2zM225 37h2v2h-2zM225 61h2v2h-2zM225 35h2v1h-2zM225 69h2v2h-2zM225 85h2v2h-2zM225 72h1v1h-1zM226 21h1v2h-1zM226 10h2v2h-2zM226 88h2v2h-2zM226 103h1v1h-1zM226 66h1v1h-1zM226 29h2v1h-2zM226 88h2v2h-2zM226 23h1v1h-1zM226 43h2v1h-2zM226 92h1v1h-1zM226 37h2v1h-2zM226 94h1v1h-1zM226 56h2v1h-2zM227 7h2v1h-2zM227 11h2v2h-2zM227 76h1v1h-1zM227 59h2v1h-2zM227 28h2v1h-2zM227 65h1v1h-1zM227 50h1v1h-1zM227 56h2v1h-2zM227 64h2v1h-2zM227 98h2v2h-2zM227 26h1v1h-1zM227 84h2v1h-2zM227 19h2v1h-2zM227 64h1v1h-1zM228 73h1v1h-1zM228 81h1v1h-1zM228 75h2v1h-2zM228 103h1v1h-1zM228 17h2v2h-2zM228 80h1v2h-1zM228 37h2v1h-2zM228 86h2v1h-2zM228 86h2v1h-2zM228 12h1v1h-1zM228 19h2v1h-2zM228 55h2v1h-2zM228 23h2v2h-2zM228 20h2v2h-2zM228 56h2v2h-2zM228 12h1v1h-1zM229 82h2v1h-2zM229 27h2v2h-2zM229 29h2v1h-2zM229 47h1v1h-1zM229 82h1v2h-1zM229 32h2v2h-2zM229 7h2v1h-2zM229 26h1v1h-1zM229 11h2v1h-2zM229 0h2v1h-2zM229 31h2v1h-2zM229 28h1v1h-1zM229 13h2v2h-2zM229 2h1v1h-1zM229 40h2v1h-2zM229 68h2v1h-2zM229 9h2v2h-2zM229 86h2v2h-2zM230 60h2v1h-2zM230 52h1v2h-1zM230 27h2v2h-2zM230 71h2v1h-2zM230 80h2v2h-2zM230 24h2v1h-2zM230 55h2v2h-2zM230 26h1v2h-1zM230 56h2v1h-2zM230 29h2v1h-2zM230 85h1v1h-1zM230 37h2v2h-2zM230 20h1v1h-1zM230 8h2v1h-2zM230 47h2v1h-2zM230 81h2v2h-2zM230 15h1v2h-1zM231 56h2v1h-2zM231 29h2v1h-2zM231 82h2v1h-2zM231 96h2v1h-2zM231 75h1v2h-1zM231 25h1v1h-1zM231 78h2v1h-2zM231 66h1v1h-1zM231 34h1v1h-1zM231 53h1v1h-1zM231 84h2v2h-2zM231 97h1v1h-1zM231 13h2v1h-2zM231 104h1v1h-1zM231 19h2v1h-2zM231 104h1v2h-1zM231 66h1v1h-1zM231 53h2v1h-2zM231 40h1v2h-1zM232 84h2v1h-2zM232 14h1v1h-1zM232 88h1v2h-1zM232 35h2v1h-2zM232 73h2v1h-2zM232 74h2v1h-2zM232 81h2v2h-2zM232 102h2v1h-2zM232 47h1v1h-1zM232 64h2v2h-2zM232 31h2v2h-2zM232 76h1v1h-1zM232 32h2v1h-2zM232 70h2v1h-2zM232 71h1v1h-1zM232 90h1v1h-1zM232 78h1v1h-1zM232 91h2v1h-2zM232 102h1v1h-1zM232 83h2v2h-2zM233 50h2v2h-2zM233 47h2v2h-2zM233 83h2v1h-2zM233 51h2v1h-2zM233 18h2v1h-2zM233 59h1v1h-1zM233 95h1v2h-1zM233 22h2v1h-2zM233 58h2v1h-2zM233 47h1v2h-1zM233 21h1v1h-1zM233 67h1v1h-1zM233 13h2v1h-2zM233 70h1v1h-1zM233 36h2v1h-2zM233 50h1v1h-1zM233 59h1v1h-1zM233 48h1v1h-1zM233 29h2v1h-2zM233 75h1v1h-1zM234 64h1v1h-1zM234 27h1v1h-1zM234 91h2v2h-2zM234 18h2v1h-2zM234 59h2v1h-2zM234 24h1v2h-1zM234 100h2v2h-2zM234 55h1v1h-1zM234 41h1v2h-1zM234 13h1v1h-1zM234 95h2v1h-2zM234 55h2v1h-2zM234 59h2v1h-2zM234 88h2v1h-2zM234 31h2v2h-2zM234 90h1v1h-1zM234 63h2v1h-2zM234 42h2v1h-2zM234 5h2v1h-2zM235 57h1v1h-1zM235 2h2v2h-2zM235 11h2v1h-2zM235 99h1v2h-1zM235 43h2v2h-2zM235 50h1v2h-1zM235 1h2v1h-2zM235 55h1v1h-1zM235 1h1v1h-1zM235 54h2v2h-2zM235 47h1v2h-1zM235 40h1v1h-1zM235 52h2v1h-2zM235 67h2v1h-2zM235 51h2v1h-2zM235 93h2v1h-2zM235 97h2v1h-2zM236 76h2v2h-2zM236 60h1v1h-1zM236 48h1v1h-1zM236 77h2v1h-2zM236 69h1v2h-1zM236 72h2v1h-2zM236 70h2v2h-2zM236 18h2v2h-2zM236 81h2v1h-2zM236 85h1v1h-1zM236 89h1v1h-1zM236 82h1v1h-1zM236 48h1v2h-1zM236 67h2v1h-2zM236 18h1v1h-1zM236 49h2v1h-2zM236 22h2v1h-2zM236 2h2v1h-2zM237 15h1v1h-1zM237 70h2v2h-2zM237 42h1v1h-1zM237 38h2v2h-2zM237 15h2v2h-2zM237 62h1v1h-1zM237 19h2v1h-2zM237 6h2v1h-2zM237 23h2v2h-2zM237 103h2v1h-2zM237 40h2v2h-2zM237 18h2v2h-2zM237 103h2v2h-2zM237 17h2v1h-2zM237 15h1v1h-1zM237 39h2v1h-2zM238 86h2v2h-2zM238 13h1v1h-1zM238 23h1v1h-1zM238 96h1v1h-1zM238 51h1v1h-1zM238 84h1v1h-1zM238 14h1v1h-1zM238 30h2v1h-2zM238 100h2v2h-2zM238 16h2v1h-2zM238 36h2v2h-2zM238 55h2v1h-2zM238 81h2v1h-2zM238 11h1v1h-1zM238 56h2v1h-2zM238 50h1v1h-1zM238 98h2v1h-2zM239 0h2v1h-2zM239 43h2v2h-2zM239 81h2v2h-2zM239 50h2v1h-2zM239 65h1v1h-1zM239 59h2v2h-2zM239 79h1v1h-1zM239 81h2v1h-2zM239 102h1v1h-1zM239 104h2v1h-2zM239 27h2v1h-2zM239 52h2v1h-2zM239 87h2v1h-2zM239 28h2v1h-2zM239 47h2v2h-2zM239 58h2v1h-2zM240 8h2v2h-2zM240 95h2v1h-2zM240 73h2v2h-2zM240 80h2v2h-2zM240 54h2v1h-2zM240 63h2v1h-2zM240 63h2v2h-2zM240 6h1v1h-1zM240 100h1v1h-1zM240 99h2v1h-2zM240 52h2v1h-2zM240 8h1v2h-1zM240 11h2v1h-2zM240 104h2v1h-2zM240 18h2v1h-2zM240 28h1v1h-1zM241 94h2v2h-2zM241 47h2v1h-2zM241 59h1v1h-1zM241 58h2v1h-2zM241 17h2v2h-2zM241 50h2v1h-2zM241 46h2v1h-2zM241 81h1v2h-1zM241 56h2v1h-2zM241 92h2v1h-2zM241 73h2v1h-2zM241 92h2v1h-2zM241 61h2v1h-2zM241 48h1v1h-1zM241 96h1v2h-1zM241 49h2v2h-2zM242 100h2v2h-2zM242 26h2v1h-2zM242 27h2v1h-2zM242 88h2v1h-2zM242 97h1v2h-1zM242 102h2v2h-2zM242 26h2v2h-2zM242 23h2v1h-2zM242 50h2v1h-2zM242 44h2v1h-2zM242 22h2v2h-2zM242 47h2v1h-2zM242 38h2v2h-2zM242 82h2v1h-2zM242 86h2v2h-2zM242 84h2v1h-2zM242 29h2v1h-2zM243 43h1v2h-1zM243 39h2v1h-2zM243 34h1v1h-1zM243 81h2v1h-2zM243 23h2v1h-2zM243 57h2v1h-2zM243 66h2v1h-2zM243 79h2v2h-2zM243 63h2v1h-2zM243 33h2v2h-2zM243 31h1v1h-1zM243 67h1v1h-1zM243 63h2v1h-2zM243 7h1v2h-1zM243 54h2v1h-2zM243 91h2v1h-2zM243 44h1v1h-1zM243 67h1v2h-1zM244 48h1v1h-1zM244 97h2v1h-2zM244 61h2v1h-2zM244 98h2v1h-2zM244 62h1v1h-1zM244 15h2v1h-2zM244 95h1v2h-1zM244 43h1v1h-1zM244 71h2v2h-2zM244 87h1v1h-1zM244 69h1v1h-1zM244 49h2v1h-2zM244 43h2v2h-2zM244 24h2v1h-2zM244 44h2v2h-2zM244 93h1v2h-1zM244 90h2v1h-2zM244 2h2v1h-2zM244 76h2v1h-2zM244 3h2v2h-2zM245 17h2v1h-2zM245 81h2v2h-2zM245 16h2v1h-2zM245 0h2v1h-2zM245 64h1v1h-1zM245 93h1v1h-1zM245 63h2v1h-2zM245 65h2v1h-2zM245 53h2v1h-2zM245 14h2v2h-2zM245 12h2v2h-2zM245 42h1v1h-1zM245 6h2v1h-2zM245 61h2v2h-2zM245 93h1v1h-1zM245 93h2v1h-2zM245 87h2v1h-2zM245 21h1v1h-1zM245 26h2v1h-2zM246 15h2v2h-2zM246 82h2v2h-2zM246 18h2v2h-2zM246 34h2v1h-2zM246 96h2v2h-2zM246 42h2v2h-2zM246 55h1v2h-1zM246 66h2v1h-2zM246 47h2v2h-2zM246 2h2v2h-2zM246 63h2v1h-2zM246 46h1v1h-1zM246 19h1v2h-1zM246 59h2v1h-2zM246 30h2v1h-2zM246 89h2v1h-2zM246 29h1v1h-1zM246 75h2v2h-2zM246 18h1v1h-1zM246 8h2v1h-2zM246 60h2v1h-2zM246 75h1v1h-1zM247 91h2v1h-2zM247 56h2v1h-2zM247 41h1v1h-1zM247 23h2v2h-2zM247 93h1v1h-1zM247 2h1v1h-1zM247 79h1v2h-1zM247 4h2v1h-2zM247 26h1v1h-1zM247 19h2v1h-2zM247 74h2v1h-2zM247 92h1v1h-1zM247 56h1v2h-1zM247 24h2v1h-2zM247 92h2v1h-2zM247 97h2v1h-2zM247 50h1v1h-1zM247 54h2v1h-2zM247 67h2v2h-2zM247 34h1v1h-1zM247 46h2v1h-2zM247 76h1v1h-1zM247 43h2v2h-2zM247 86h2v2h-2zM248 33h1v1h-1zM248 37h2v1h-2zM248 31h2v1h-2zM248 86h2v1h-2zM248 72h2v2h-2zM248 5h1v1h-1zM248 67h1v2h-1zM248 55h1v1h-1zM248 69h2v1h-2zM248 39h2v1h-2zM248 99h2v2h-2zM248 12h2v1h-2zM248 77h2v2h-2zM248 36h2v1h-2zM248 29h1v1h-1zM248 44h2v1h-2zM248 43h2v1h-2zM248 80h2v2h-2zM248 22h2v1h-2zM248 3h1v1h-1zM248 60h1v2h-1zM248 53h2v1h-2zM248 47h1v1h-1zM248 18h1v2h-1zM248 23h1v1h-1zM249 88h1v2h-1zM249 101h2v2h-2zM249 84h2v1h-2zM249 57h1v1h-1zM249 16h2v1h-2zM249 41h2v1h-2zM249 102h1v2h-1zM249 58h2v1h-2zM249 68h2v2h-2zM249 15h2v1h-2zM249 19h2v1h-2zM249 2h2v1h-2zM249 90h2v1h-2zM249 18h2v1h-2zM249 47h2v1h-2zM249 58h2v2h-2zM249 43h2v1h-2zM249 12h2v1h-2zM249 45h2v2h-2zM249 87h2v2h-2zM249 46h2v1h-2zM249 9h2v2h-2zM249 24h2v1h-2zM249 103h2v1h-2zM249 69h1v1h-1zM249 68h1v1h-1zM250 17h2v1h-2zM250 103h2v1h-2zM250 6h1v1h-1zM250 96h1v1h-1zM250 98h1v1h-1zM250 97h2v2h-2zM250 61h2v1h-2zM250 100h1v2h-1zM250 71h2v1h-2zM250 4h2v1h-2zM250 87h2v1h-2zM250 76h2v2h-2zM250 83h1v2h-1zM250 91h2v1h-2zM250 70h1v1h-1zM250 91h2v1h-2zM250 3h2v1h-2zM250 15h2v1h-2zM250 51h2v1h-2zM250 57h2v1h-2zM250 68h2v1h-2zM250 67h2v2h-2zM250 93h1v1h-1zM250 15h2v1h-2zM250 69h2v2h-2zM250 30h1v1h-1zM251 53h2v2h-2zM251 49h2v2h-2zM251 94h2v2h-2zM251 21h2v1h-2zM251 36h2v1h-2zM251 78h2v1h-2zM251 64h1v2h-1zM251 62h1v1h-1zM251 94h2v2h-2zM251 0h2v1h-2zM251 49h2v1h-2zM251 43h2v2h-2zM251 39h1v1h-1zM251 2h2v1h-2zM251 93h2v1h-2zM251 13h1v1h-1zM251 52h2v1h-2zM251 32h2v1h-2zM251 68h2v2h-2zM251 46h1v2h-1zM251 90h2v2h-2zM251 96h1v1h-1zM251 37h2v1h-2zM251 74h1v1h-1zM251 67h2v1h-2zM252 9h2v2h-2zM252 12h1v1h-1zM252 100h2v1h-2zM252 22h2v2h-2zM252 66h2v2h-2zM252 99h2v1h-2zM252 73h1v1h-1zM252 3h2v2h-2zM252 7h1v1h-1zM252 52h2v2h-2zM252 24h1v2h-1zM252 91h2v1h-2zM252 56h2v2h-2zM252 22h2v1h-2zM252 3h2v1h-2zM252 7h2v1h-2zM252 75h1v1h-1zM252 9h2v2h-2zM252 29h1v1h-1zM252 14h2v1h-2zM252 60h1v1h-1zM252 20h2v1h-2zM252 23h2v1h-2zM252 12h2v2h-2zM252 13h1v2h-1zM252 101h2v1h-2zM253 52h2v1h-2zM253 17h2v1h-2zM253 59h2v2h-2zM253 76h2v1h-2zM253 28h2v2h-2zM253 30h1v1h-1zM253 50h2v1h-2zM253 83h1v1h-1zM253 42h1v1h-1zM253 60h1v2h-1zM253 85h2v1h-2zM253 74h1v2h-1zM253 3h2v2h-2zM253 96h2v1h-2zM253 26h2v2h-2zM253 69h2v1h-2zM253 0h1v1h-1zM253 64h1v1h-1zM253 1h2v2h-2zM253 13h1v1h-1zM253 53h2v1h-2zM253 2h2v2h-2zM253 57h1v2h-1zM253 86h2v2h-2zM253 73h2v2h-2zM254 44h1v1h-1zM254 9h2v1h-2zM254 14h2v1h-2zM254 101h1v1h-1zM254 49h1v2h-1zM254 66h1v1h-1zM254 15h2v1h-2zM254 88h2v1h-2zM254 102h2v2h-2zM254 67h2v2h-2zM254 10h1v1h-1zM254 41h2v1h-2zM254 7h2v1h-2zM254 64h2v1h-2zM254 66h1v1h-1zM254 52h1v2h-1zM254 29h2v1h-2zM254 94h2v2h-2zM254 72h2v1h-2zM254 13h2v2h-2zM254 6h2v1h-2zM254 78h1v1h-1zM254 16h2v2h-2zM255 50h1v1h-1zM255 82h2v2h-2zM255 22h2v1h-2zM255 59h1v1h-1zM255 29h2v1h-2zM255 73h2v2h-2zM255 101h2v1h-2zM255 93h2v2h-2zM255 14h1v2h-1zM255 16h1v1h-1zM255 0h2v1h-2zM255 33h2v1h-2zM255 17h2v1h-2zM255 41h1v1h-1zM255 39h2v2h-2zM255 0h2v1h-2zM255 60h2v2h-2zM255 104h2v1h-2zM255 64h2v2h-2zM255 0h2v1h-2zM255 86h1v2h-1zM256 73h2v1h-2zM256 14h1v1h-1zM256 25h2v1h-2zM256 25h2v1h-2zM256 86h2v1h-2zM256 52h1v1h-1zM256 23h1v1h-1zM256 19h2v2h-2zM256 67h2v1h-2zM256 21h1v1h-1zM256 50h1v1h-1zM256 40h2v2h-2zM256 28h1v2h-1zM256 2h1v2h-1zM256 72h2v1h-2zM256 47h1v2h-1zM256 43h2v2h-2zM256 54h2v2h-2zM256 88h1v2h-1zM257 81h1v1h-1zM257 27h1v2h-1zM257 29h2v1h-2zM257 90h1v1h-1zM257 52h2v1h-2zM257 55h2v1h-2zM257 63h2v1h-2zM257 45h2v1h-2zM257 20h2v1h-2zM257 62h2v1h-2zM257 21h2v1h-2zM257 61h2v1h-2zM257 49h2v1h-2zM257 80h2v1h-2zM257 36h1v1h-1zM257 41h2v1h-2zM257 101h1v1h-1zM257 26h2v1h-2zM257 49h1v2h-1zM258 5h2v2h-2zM258 30h2v2h-2zM258 18h2v2h-2zM258 95h2v1h-2zM258 62h2v1h-2zM258 47h1v1h-1zM258 29h1v1h-1zM258 62h2v2h-2zM258 26h2v1h-2zM258 64h2v2h-2zM258 9h1v1h-1zM258 104h1v1h-1zM258 61h2v1h-2zM258 63h1v1h-1zM258 89h1v2h-1zM258 77h1v1h-1zM258 59h1v1h-1zM259 92h2v1h-2zM259 78h2v1h-2zM259 76h1v1h-1zM259 21h1v2h-1zM259 65h2v1h-2zM259 1h1v1h-1zM259 68h2v1h-2zM259 6h2v1h-2zM259 49h2v1h-2zM259 99h2v1h-2zM259 64h1v1h-1zM259 40h2v1h-2zM259 100h1v1h-1zM259 51h1v2h-1zM259 8h1v1h-1zM259 20h1v2h-1zM260 6h2v1h-2zM260 98h2v2h-2zM260 91h2v1h-2zM260 16h2v2h-2zM260 74h2v1h-2zM260 11h2v2h-2zM260 51h1v1h-1zM260 33h2v2h-2zM260 6h2v1h-2zM260 101h2v1h-2zM260 15h1v1h-1zM260 0h2v1h-2zM260 88h1v1h-1zM260 22h2v2h-2zM260 14h1v1h-1zM261 77h1v1h-1zM261 78h2v2h-2zM261 14h1v1h-1zM261 6h1v2h-1zM261 32h2v1h-2zM261 45h2v1h-2zM261 30h1v2h-1zM261 7h2v2h-2zM261 73h2v2h-2zM261 23h1v2h-1zM261 74h2v1h-2zM261 2h2v1h-2zM261 76h2v1h-2zM261 11h2v1h-2zM261 65h1v2h-1zM262 104h2v1h-2zM262 32h1v1h-1zM262 47h1v1h-1zM262 86h2v1h-2zM262 33h2v1h-2zM262 46h1v1h-1zM262 74h1v1h-1zM262 32h1v1h-1zM262 73h2v1h-2zM262 53h2v1h-2zM262 36h1v1h-1zM262 62h2v1h-2zM262 70h2v1h-2zM263 11h2v1h-2zM263 48h2v1h-2zM263 64h1v1h-1zM263 66h1v2h-1zM263 44h1v2h-1zM263 69h1v1h-1zM263 82h1v1h-1zM263 103h2v1h-2zM263 23h2v2h-2zM263 15h1v2h-1zM263 99h2v1h-2zM263 13h2v2h-2zM263 96h2v1h-2zM263 90h1v2h-1zM263 27h1v1h-1zM264 69h2v1h-2zM264 10h2v2h-2zM264 100h2v2h-2zM264 63h2v1h-2zM264 38h2v1h-2zM264 35h2v1h-2zM264 29h1v1h-1zM264 46h2v1h-2zM264 34h2v1h-2zM264 98h2v1h-2zM264 12h2v1h-2zM264 99h2v1h-2zM264 79h2v1h-2zM264 26h2v2h-2zM264 89h2v1h-2zM264 37h1v2h-1zM265 59h2v1h-2zM265 70h2v1h-2zM265 48h1v1h-1zM265 9h2v1h-2zM265 30h2v1h-2zM265 83h1v2h-1zM265 83h2v1h-2zM265 47h2v2h-2zM265 73h2v1h-2zM265 69h2v1h-2zM265 45h1v2h-1zM265 7h2v2h-2zM265 28h2v1h-2zM265 79h2v1h-2zM265 65h1v1h-1zM265 37h1v2h-1zM266 97h1v1h-1zM266 6h2v2h-2zM266 8h2v2h-2zM266 49h2v1h-2zM266 67h2v2h-2zM266 1h2v2h-2zM266 74h1v1h-1zM266 92h2v2h-2zM266 1h1v2h-1zM266 7h2v2h-2zM266 66h1v1h-1zM266 47h1v1h-1zM266 70h2v2h-2zM266 71h1v1h-1zM266 61h2v1h-2zM266 68h1v1h-1zM266 41h2v1h-2zM266 22h2v1h-2zM267 26h2v1h-2zM267 104h2v1h-2zM267 88h2v1h-2zM267 67h2v1h-2zM267 55h1v1h-1zM267 17h2v1h-2zM267 70h1v1h-1zM267 13h2v1h-2zM267 41h2v2h-2zM267 7h2v1h-2zM267 99h2v1h-2zM267 44h1v1h-1zM267 46h1v1h-1zM267 27h2v2h-2zM267 35h2v1h-2zM267 90h2v1h-2zM267 74h2v1h-2zM268 54h2v1h-2zM268 61h1v1h-1zM268 23h2v1h-2zM268 29h1v1h-1zM268 89h2v2h-2zM268 32h1v1h-1zM268 54h2v2h-2zM268 94h1v1h-1zM268 47h1v2h-1zM268 51h1v1h-1zM268 65h2v1h-2zM268 16h1v2h-1zM268 30h2v1h-2zM268 55h1v1h-1zM268 47h2v2h-2zM268 40h2v1h-2zM268 18h2v2h-2zM268 25h1v1h-1zM268 73h2v1h-2zM269 5h1v1h-1zM269 19h2v1h-2zM269 19h2v2h-2zM269 83h1v1h-1zM269 39h1v1h-1zM269 81h1v1h-1zM269 90h2v1h-2zM269 65h2v1h-2zM269 50h2v2h-2zM269 88h2v2h-2zM269 90h2v1h-2zM269 23h2v1h-2zM269 6h2v2h-2zM269 4h1v2h-1zM269 72h2v1h-2zM269 21h1v2h-1zM269 14h2v2h-2zM269 22h1v1h-1zM269 62h1v1h-1zM270 27h1v1h-1zM270 75h2v1h-2zM270 89h2v1h-2zM270 61h2v1h-2zM270 73h2v1h-2zM270 50h2v2h-2zM270 97h2v2h-2zM270 63h1v1h-1zM270 43h2v1h-2zM270 79h2v1h-2zM270 37h2v2h-2zM270 79h1v1h-1zM270 30h2v2h-2zM270 16h1v1h-1zM270 28h1v1h-1zM270 97h2v1h-2zM270 3h2v1h-2zM270 64h1v2h-1zM270 23h2v1h-2zM271 88h2v2h-2zM271 69h2v1h-2zM271 78h1v2h-1zM271 88h2v1h-2zM271 59h1v1h-1zM271 60h1v1h-1zM271 65h2v1h-2zM271 51h1v1h-1zM271 60h2v2h-2zM271 98h1v1h-1zM271 36h2v1h-2zM271 26h1v1h-1zM271 19h1v2h-1zM271 85h2v2h-2zM271 85h2v1h-2zM271 56h2v1h-2zM271 14h1v2h-1zM272 11h2v1h-2zM272 95h2v1h-2zM272 77h2v1h-2zM272 10h2v2h-2zM272 8h2v1h-2zM272 59h2v2h-2zM272 2h2v1h-2zM272 103h2v1h-2zM272 67h2v2h-2zM272 61h1v1h-1zM272 92h2v1h-2zM272 71h1v1h-1zM272 4h2v1h-2zM272 96h2v1h-2zM272 27h2v1h-2zM272 60h1v1h-1zM272 14h2v2h-2zM272 21h2v1h-2zM273 67h1v1h-1zM273 15h1v2h-1zM273 78h1v1h-1zM273 47h2v1h-2zM273 36h2v1h-2zM273 30h2v1h-2zM273 74h2v1h-2zM273 104h1v1h-1zM273 69h2v2h-2zM273 0h2v2h-2zM273 95h1v2h-1zM273 75h2v1h-2zM273 20h1v1h-1zM273 46h2v1h-2zM273 34h2v2h-2zM273 93h2v1h-2zM274 60h2v1h-2zM274 71h2v1h-2zM274 104h2v1h-2zM274 91h1v1h-1zM274 9h2v1h-2zM274 69h2v1h-2zM274 102h2v2h-2zM274 67h2v1h-2zM274 66h2v2h-2zM274 33h2v1h-2zM274 89h2v2h-2zM274 81h2v1h-2zM274 0h2v1h-2zM274 26h2v1h-2zM274 36h2v1h-2zM275 102h2v1h-2zM275 32h2v1h-2zM275 57h2v2h-2zM275 33h2v1h-2zM275 103h1v2h-1zM275 86h1v2h-1zM275 67h1v2h-1zM275 100h1v2h-1zM275 43h1v1h-1zM275 103h2v1h-2zM275 17h1v1h-1zM275 10h1v2h-1zM276 17h2v2h-2zM276 95h2v1h-2zM276 73h1v2h-1zM276 65h2v1h-2zM276 39h2v1h-2zM276 83h2v1h-2zM276 92h2v2h-2zM276 13h2v2h-2zM276 92h2v2h-2zM276 13h2v1h-2zM276 50h2v1h-2zM276 103h2v2h-2zM277 35h1v2h-1zM277 3h1v1h-1zM277 2h2v1h-2zM277 38h2v1h-2zM277 27h2v1h-2zM277 60h2v2h-2zM277 15h2v1h-2zM277 17h1v2h-1zM277 102h2v1h-2zM277 63h1v2h-1zM277 14h2v1h-2zM278 46h1v1h-1zM278 96h2v1h-2zM278 54h2v1h-2zM278 37h2v1h-2zM278 61h1v1h-1zM278 80h2v2h-2zM278 22h1v1h-1zM278 99h2v1h-2zM278 63h2v2h-2zM278 35h1v2h-1zM279 50h2v2h-2zM279 92h1v1h-1zM279 90h2v2h-2zM279 58h2v2h-2zM279 0h2v1h-2zM279 87h2v1h-2zM279 52h2v1h-2zM279 62h2v1h-2zM279 93h2v1h-2zM279 64h2v1h-2zM280 48h2v1h-2zM280 40h2v1h-2zM280 76h2v1h-2zM280 59h2v1h-2zM280 64h2v1h-2zM280 17h1v1h-1zM280 43h1v2h-1zM280 16h2v2h-2zM280 28h1v1h-1zM280 41h2v1h-2zM281 91h2v1h-2zM281 51h1v1h-1zM281 83h1v2h-1zM281 10h2v1h-2zM281 94h1v2h-1zM281 9h1v2h-1zM281 95h1v1h-1zM281 9h1v2h-1zM281 27h1v1h-1zM281 101h1v1h-1zM282 85h1v1h-1zM282 103h2v1h-2zM282 0h2v1h-2zM282 43h2v1h-2zM282 70h2v1h-2zM282 97h1v1h-1zM282 27h2v2h-2zM282 16h2v1h-2zM282 93h2v1h-2zM282 91h2v1h-2zM283 81h2v2h-2zM283 20h2v1h-2zM283 16h2v1h-2zM283 83h2v2h-2zM283 62h1v1h-1zM283 52h1v1h-1zM283 3h1v1h-1zM283 27h2v1h-2zM283 65h1v1h-1zM284 99h2v1h-2zM284 90h2v1h-2zM284 44h1v1h-1zM284 51h2v2h-2zM284 70h2v2h-2zM284 17h1v2h-1zM284 16h1v1h-1zM284 99h2v2h-2zM285 98h2v2h-2zM285 80h2v2h-2zM285 36h2v2h-2zM285 104h1v2h-1zM285 14h2v2h-2zM286 18h1v1h-1zM286 18h2v1h-2zM286 71h1v1h-1z" fill="#b4b0ff" fill-opacity="0.27"/><path d="M40 76h1v1h-1zM51 58h1v1h-1zM54 32h1v1h-1zM58 75h1v1h-1zM60 31h1v1h-1zM75 101h1v1h-1zM78 50h1v1h-1zM81 76h1v1h-1zM86 45h1v1h-1zM87 58h1v1h-1zM97 60h1v1h-1zM100 27h1v1h-1zM105 36h1v1h-1zM105 25h1v1h-1zM112 49h1v1h-1zM112 80h1v1h-1zM116 48h1v1h-1zM120 69h1v1h-1zM121 81h1v1h-1zM124 53h1v1h-1zM125 51h1v1h-1zM125 27h1v1h-1zM136 52h1v1h-1zM138 74h1v1h-1zM139 81h1v1h-1zM140 67h1v1h-1zM140 94h1v1h-1zM143 25h1v1h-1zM153 50h1v1h-1zM155 4h1v1h-1zM156 72h1v1h-1zM157 16h1v1h-1zM159 14h1v1h-1zM161 27h1v1h-1zM163 43h1v1h-1zM164 34h1v1h-1zM166 35h1v1h-1zM169 36h1v1h-1zM169 17h1v1h-1zM169 89h1v1h-1zM170 102h1v1h-1zM176 64h1v1h-1zM179 20h1v1h-1zM183 72h1v1h-1zM186 55h1v1h-1zM187 62h1v1h-1zM190 100h1v1h-1zM190 1h1v1h-1zM195 25h1v1h-1zM199 91h1v1h-1zM201 3h1v1h-1zM218 16h1v1h-1zM219 64h1v1h-1zM223 11h1v1h-1zM224 46h1v1h-1zM224 47h1v1h-1zM226 47h1v1h-1zM230 47h1v1h-1zM230 0h1v1h-1zM231 102h1v1h-1zM234 4h1v1h-1zM235 55h1v1h-1zM237 31h1v1h-1zM241 29h1v1h-1zM245 26h1v1h-1zM245 66h1v1h-1zM251 35h1v1h-1zM255 104h1v1h-1zM256 67h1v1h-1zM262 80h1v1h-1zM262 25h1v1h-1zM265 69h1v1h-1zM271 38h1v1h-1zM275 1h1v1h-1zM285 11h1v1h-1z" fill="#3050ff" fill-opacity="0.28"/></pattern></defs><rect x="205" y="120" width="287" height="420" fill="url(#nz)"/><g fill="none" stroke-linecap="round" stroke-linejoin="round"><path d="M520.3 120L522.7 540M513.5 120L513.5 165M294 440L294.3 540" stroke="#49ffad" stroke-opacity="0.35" stroke-width="1.2"/><path d="M292.7 120L293 300L294 440" stroke="#5ff5c0" stroke-width="1.6"/><path d="M393.7 120.0C393.9 150.0 394.5 230.0 394.9 300.0C395.3 370.0 396.1 500.0 396.3 540.0" stroke="#55f8b8" stroke-width="1.9"/><path d="M195.0 120.0C195.3 137.2 196.4 188.3 196.7 223.0C197.0 257.7 196.8 298.8 197.0 328.0C197.2 357.2 197.9 362.7 198.2 398.0C198.4 433.3 198.4 516.3 198.5 540.0" stroke="#80ff80" stroke-width="2.1"/><path d="M153.3 247.5C154.2 251.6 156.1 263.2 158.5 272.0C160.9 280.8 163.9 289.9 168.0 300.0C172.1 310.1 178.2 322.9 183.0 332.6C187.8 342.3 192.5 347.8 197.0 358.3C201.5 368.8 207.5 388.7 209.8 395.6C212.1 402.6 210.8 399.3 211.0 400.0M150.8 317.5L171.3 358.3M250.4 223.5C250.7 227.4 250.6 238.8 251.9 247.0C253.2 255.2 255.3 262.6 258.2 272.5C261.1 282.4 265.2 296.1 269.5 306.5C273.8 316.9 279.4 326.3 283.7 334.8C287.9 343.3 291.2 348.5 295.0 357.5C298.8 366.5 303.9 382.0 306.3 388.6C308.7 395.2 308.7 395.8 309.2 397.2M253.9 325.0C255.8 329.0 261.2 340.8 265.2 349.0C269.2 357.2 275.9 370.2 278.0 374.5M426.8 246.4C427.1 248.3 427.1 252.1 428.4 258.0C429.7 263.9 432.5 275.3 434.4 282.0C436.3 288.7 437.1 291.0 440.0 298.0C442.9 305.0 448.0 315.7 452.0 324.0C456.0 332.3 459.5 338.3 464.0 348.0C468.5 357.7 475.7 373.0 479.0 382.0C482.3 391.0 481.8 393.3 483.6 402.0C485.4 410.7 488.2 425.5 489.6 434.0C491.0 442.5 491.6 449.8 492.0 453.0M476.4 325.2C479.0 330.0 486.8 342.0 492.0 354.0C497.2 366.0 504.3 387.4 507.6 397.1C510.9 406.8 511.3 409.5 512.0 412.0M520.0 194.0C520.1 199.2 519.9 217.7 520.5 225.0C521.1 232.3 522.5 233.7 523.4 238.0C524.2 242.3 524.3 245.0 525.6 251.0C526.9 257.0 529.0 267.2 531.0 274.0C533.0 280.8 535.3 286.5 537.5 292.0C539.7 297.5 542.6 303.8 544.0 307.0C545.4 310.2 545.7 310.3 546.0 311.0M228.4 252.7L237.0 286.7M424.0 425.0C424.5 430.0 425.8 445.0 427.0 455.0C428.2 465.0 429.5 475.0 431.0 485.0C432.5 495.0 434.0 505.8 436.0 515.0C438.0 524.2 441.7 535.8 442.8 540.0M151.2 424.0C151.4 427.5 151.9 437.3 152.5 445.0C153.1 452.7 154.6 465.8 155.0 470.0M226.5 427.5C226.8 432.1 227.8 446.2 228.5 455.0C229.2 463.8 230.2 475.8 230.5 480.0" stroke="#49ffad" stroke-opacity="0.85" stroke-width="1.2" stroke-dasharray="2 1.2" stroke-linecap="butt"/><path d="M270.7 196.0C271.1 200.2 271.7 210.0 273.1 221.0C274.5 232.0 277.0 251.5 279.1 262.0C281.2 272.5 283.8 278.0 286.0 284.0C288.2 290.0 289.9 293.1 292.2 298.0C294.5 302.9 296.4 306.7 299.6 313.2C302.8 319.7 307.6 328.8 311.6 337.2C315.6 345.6 320.1 354.8 323.6 363.6C327.1 372.4 330.6 383.4 332.7 390.0C334.8 396.6 334.9 398.9 336.0 403.3C337.1 407.8 338.3 411.6 339.3 416.7C340.3 421.8 341.2 426.9 342.0 434.0C342.8 441.1 343.7 455.1 344.0 459.3M296.0 196.0C296.6 201.0 298.2 215.0 299.6 226.0C301.0 237.0 302.0 250.3 304.4 262.0C306.8 273.7 309.8 285.5 314.0 296.4C318.2 307.3 324.4 317.2 329.6 327.6C334.8 338.0 340.7 348.4 345.2 358.8C349.7 369.2 354.1 383.1 356.5 390.0C358.9 396.9 358.0 393.3 359.5 400.0C361.0 406.7 363.8 421.7 365.3 430.0C366.8 438.3 368.0 445.0 368.7 450.0C369.4 455.0 369.4 458.3 369.5 460.0M370.4 196.0C370.8 200.2 371.4 210.2 372.8 221.2C374.2 232.2 376.2 249.9 378.8 262.0C381.4 274.1 384.9 284.5 388.4 294.0C391.9 303.5 396.7 312.0 400.0 319.0C403.3 326.0 405.3 330.8 408.0 336.0C410.7 341.2 413.5 345.0 416.0 350.0C418.5 355.0 420.8 360.7 423.0 366.0C425.2 371.3 427.2 376.7 429.0 382.0C430.8 387.3 432.5 392.5 434.0 398.0C435.5 403.5 436.7 407.2 438.0 415.0C439.3 422.8 441.2 437.5 442.0 445.0C442.8 452.5 442.8 457.5 443.0 460.0M394.4 191.0C394.6 196.0 394.2 209.2 395.6 221.0C397.0 232.8 400.7 252.2 402.8 262.0C404.9 271.8 405.8 273.7 408.0 280.0C410.2 286.3 413.0 293.3 416.0 300.0C419.0 306.7 422.7 313.3 426.0 320.0C429.3 326.7 433.0 334.0 436.0 340.0C439.0 346.0 441.3 350.3 444.0 356.0C446.7 361.7 449.7 367.3 452.0 374.0C454.3 380.7 456.2 388.5 458.0 396.0C459.8 403.5 461.5 410.8 463.0 419.0C464.5 427.2 466.2 438.2 467.0 445.0C467.8 451.8 467.8 457.5 468.0 460.0M155.0 470.0C155.4 472.0 156.4 475.6 157.6 482.0C158.8 488.4 160.4 498.7 162.4 508.4C164.4 518.1 168.4 534.7 169.6 540.0M230.5 480.0C231.6 484.7 234.6 498.4 236.8 508.4C239.1 518.4 242.8 534.7 244.0 540.0M251.2 423.2C251.8 431.0 253.2 457.0 254.8 470.0C256.4 483.0 258.4 489.5 260.8 501.2C263.2 512.9 267.8 533.5 269.2 540.0M523.1 422.0C523.5 426.8 524.5 441.2 525.5 450.8C526.5 460.4 527.5 470.4 529.1 479.6C530.7 488.8 532.9 495.9 535.1 506.0C537.3 516.1 541.1 534.3 542.3 540.0M455.0 477.0C455.5 480.3 456.7 489.8 458.0 497.0C459.3 504.2 461.0 512.8 462.7 520.0C464.4 527.2 467.1 536.7 468.0 540.0" stroke="#60ffa0" stroke-width="2.0"/><path d="M270.7 196.0C271.1 200.2 271.7 210.0 273.1 221.0C274.5 232.0 277.0 251.5 279.1 262.0C281.2 272.5 283.8 278.0 286.0 284.0C288.2 290.0 289.9 293.1 292.2 298.0C294.5 302.9 296.4 306.7 299.6 313.2C302.8 319.7 307.6 328.8 311.6 337.2C315.6 345.6 320.1 354.8 323.6 363.6C327.1 372.4 330.6 383.4 332.7 390.0C334.8 396.6 334.9 398.9 336.0 403.3C337.1 407.8 338.3 411.6 339.3 416.7C340.3 421.8 341.2 426.9 342.0 434.0C342.8 441.1 343.7 455.1 344.0 459.3M296.0 196.0C296.6 201.0 298.2 215.0 299.6 226.0C301.0 237.0 302.0 250.3 304.4 262.0C306.8 273.7 309.8 285.5 314.0 296.4C318.2 307.3 324.4 317.2 329.6 327.6C334.8 338.0 340.7 348.4 345.2 358.8C349.7 369.2 354.1 383.1 356.5 390.0C358.9 396.9 358.0 393.3 359.5 400.0C361.0 406.7 363.8 421.7 365.3 430.0C366.8 438.3 368.0 445.0 368.7 450.0C369.4 455.0 369.4 458.3 369.5 460.0M370.4 196.0C370.8 200.2 371.4 210.2 372.8 221.2C374.2 232.2 376.2 249.9 378.8 262.0C381.4 274.1 384.9 284.5 388.4 294.0C391.9 303.5 396.7 312.0 400.0 319.0C403.3 326.0 405.3 330.8 408.0 336.0C410.7 341.2 413.5 345.0 416.0 350.0C418.5 355.0 420.8 360.7 423.0 366.0C425.2 371.3 427.2 376.7 429.0 382.0C430.8 387.3 432.5 392.5 434.0 398.0C435.5 403.5 436.7 407.2 438.0 415.0C439.3 422.8 441.2 437.5 442.0 445.0C442.8 452.5 442.8 457.5 443.0 460.0M394.4 191.0C394.6 196.0 394.2 209.2 395.6 221.0C397.0 232.8 400.7 252.2 402.8 262.0C404.9 271.8 405.8 273.7 408.0 280.0C410.2 286.3 413.0 293.3 416.0 300.0C419.0 306.7 422.7 313.3 426.0 320.0C429.3 326.7 433.0 334.0 436.0 340.0C439.0 346.0 441.3 350.3 444.0 356.0C446.7 361.7 449.7 367.3 452.0 374.0C454.3 380.7 456.2 388.5 458.0 396.0C459.8 403.5 461.5 410.8 463.0 419.0C464.5 427.2 466.2 438.2 467.0 445.0C467.8 451.8 467.8 457.5 468.0 460.0M155.0 470.0C155.4 472.0 156.4 475.6 157.6 482.0C158.8 488.4 160.4 498.7 162.4 508.4C164.4 518.1 168.4 534.7 169.6 540.0M230.5 480.0C231.6 484.7 234.6 498.4 236.8 508.4C239.1 518.4 242.8 534.7 244.0 540.0M251.2 423.2C251.8 431.0 253.2 457.0 254.8 470.0C256.4 483.0 258.4 489.5 260.8 501.2C263.2 512.9 267.8 533.5 269.2 540.0M523.1 422.0C523.5 426.8 524.5 441.2 525.5 450.8C526.5 460.4 527.5 470.4 529.1 479.6C530.7 488.8 532.9 495.9 535.1 506.0C537.3 516.1 541.1 534.3 542.3 540.0M455.0 477.0C455.5 480.3 456.7 489.8 458.0 497.0C459.3 504.2 461.0 512.8 462.7 520.0C464.4 527.2 467.1 536.7 468.0 540.0" stroke="#b8ff48" stroke-width="0.9"/><path d="M275.2 420.8C275.8 427.0 277.4 445.8 278.8 458.0C280.2 470.2 281.9 484.0 283.6 494.0C285.3 504.0 287.4 510.3 289.0 518.0C290.6 525.7 292.5 536.3 293.2 540.0M300.0 422.0C300.5 428.0 301.9 446.0 303.2 458.0C304.5 470.0 305.4 480.3 308.0 494.0C310.6 507.7 317.0 532.3 318.8 540.0M374.7 421.3C375.0 425.0 376.0 435.2 376.7 443.3C377.4 451.4 377.8 461.6 378.7 470.0C379.6 478.4 380.0 482.3 382.4 494.0C384.8 505.7 391.4 532.3 393.2 540.0M399.0 421.0C399.3 425.0 400.2 437.7 401.0 445.0C401.8 452.3 403.0 458.3 404.0 465.0C405.0 471.7 405.8 477.3 407.0 485.0C408.2 492.7 409.1 501.8 411.0 511.0C412.9 520.2 417.2 535.2 418.4 540.0M333.2 191.2C333.6 195.8 334.2 207.0 335.6 218.8C337.0 230.6 339.6 251.5 341.6 262.0C343.6 272.5 345.4 275.7 347.6 282.0C349.8 288.3 352.6 294.0 355.0 300.0C357.4 306.0 358.0 310.2 362.0 318.0C366.0 325.8 374.0 337.6 378.8 346.8C383.6 356.0 387.8 364.0 390.8 373.2C393.8 382.4 395.3 395.0 396.8 402.0C398.3 409.0 398.8 409.5 400.0 415.0C401.2 420.5 403.0 428.3 404.0 435.0C405.0 441.7 405.6 450.0 406.0 455.0C406.4 460.0 406.4 463.3 406.5 465.0M338.0 420.7C338.1 423.4 338.4 431.8 338.7 436.7C339.0 441.6 339.6 446.1 340.0 450.0C340.4 453.9 340.7 456.9 341.0 460.0C341.3 463.1 341.5 463.8 342.0 468.7C342.5 473.6 342.7 481.8 344.0 489.2C345.3 496.6 348.0 504.7 350.0 513.2C352.0 521.7 355.0 535.5 356.0 540.0" stroke="#80ff78" stroke-width="2.9"/><path d="M275.2 420.8C275.8 427.0 277.4 445.8 278.8 458.0C280.2 470.2 281.9 484.0 283.6 494.0C285.3 504.0 287.4 510.3 289.0 518.0C290.6 525.7 292.5 536.3 293.2 540.0M300.0 422.0C300.5 428.0 301.9 446.0 303.2 458.0C304.5 470.0 305.4 480.3 308.0 494.0C310.6 507.7 317.0 532.3 318.8 540.0M374.7 421.3C375.0 425.0 376.0 435.2 376.7 443.3C377.4 451.4 377.8 461.6 378.7 470.0C379.6 478.4 380.0 482.3 382.4 494.0C384.8 505.7 391.4 532.3 393.2 540.0M399.0 421.0C399.3 425.0 400.2 437.7 401.0 445.0C401.8 452.3 403.0 458.3 404.0 465.0C405.0 471.7 405.8 477.3 407.0 485.0C408.2 492.7 409.1 501.8 411.0 511.0C412.9 520.2 417.2 535.2 418.4 540.0" stroke="#e0f030" stroke-width="1.7"/><path d="M275.2 420.8C275.8 427.0 277.4 445.8 278.8 458.0C280.2 470.2 281.9 484.0 283.6 494.0C285.3 504.0 287.4 510.3 289.0 518.0C290.6 525.7 292.5 536.3 293.2 540.0M300.0 422.0C300.5 428.0 301.9 446.0 303.2 458.0C304.5 470.0 305.4 480.3 308.0 494.0C310.6 507.7 317.0 532.3 318.8 540.0M374.7 421.3C375.0 425.0 376.0 435.2 376.7 443.3C377.4 451.4 377.8 461.6 378.7 470.0C379.6 478.4 380.0 482.3 382.4 494.0C384.8 505.7 391.4 532.3 393.2 540.0M399.0 421.0C399.3 425.0 400.2 437.7 401.0 445.0C401.8 452.3 403.0 458.3 404.0 465.0C405.0 471.7 405.8 477.3 407.0 485.0C408.2 492.7 409.1 501.8 411.0 511.0C412.9 520.2 417.2 535.2 418.4 540.0" stroke="#ffc020" stroke-width="0.6"/><path d="M333.2 191.2C333.6 195.8 334.2 207.0 335.6 218.8M338.0 420.7C338.1 423.4 338.4 431.8 338.7 436.7C339.0 441.6 339.6 446.1 340.0 450.0" stroke="#e0f030" stroke-width="1.7"/><path d="M335.6 218.8C337.0 230.6 339.6 251.5 341.6 262.0C343.6 272.5 345.4 275.7 347.6 282.0C349.8 288.3 352.6 294.0 355.0 300.0C357.4 306.0 358.0 310.2 362.0 318.0C366.0 325.8 374.0 337.6 378.8 346.8C383.6 356.0 387.8 364.0 390.8 373.2C393.8 382.4 395.3 395.0 396.8 402.0C398.3 409.0 398.8 409.5 400.0 415.0C401.2 420.5 403.0 428.3 404.0 435.0C405.0 441.7 405.6 450.0 406.0 455.0C406.4 460.0 406.4 463.3 406.5 465.0M340.0 450.0C340.4 453.9 340.7 456.9 341.0 460.0C341.3 463.1 341.5 463.8 342.0 468.7C342.5 473.6 342.7 481.8 344.0 489.2C345.3 496.6 348.0 504.7 350.0 513.2C352.0 521.7 355.0 535.5 356.0 540.0" stroke="#ffd000" stroke-width="1.9"/><path d="M335.6 218.8C337.0 230.6 339.6 251.5 341.6 262.0C343.6 272.5 345.4 275.7 347.6 282.0C349.8 288.3 352.6 294.0 355.0 300.0C357.4 306.0 358.0 310.2 362.0 318.0C366.0 325.8 374.0 337.6 378.8 346.8C383.6 356.0 387.8 364.0 390.8 373.2C393.8 382.4 395.3 395.0 396.8 402.0C398.3 409.0 398.8 409.5 400.0 415.0C401.2 420.5 403.0 428.3 404.0 435.0C405.0 441.7 405.6 450.0 406.0 455.0C406.4 460.0 406.4 463.3 406.5 465.0M340.0 450.0C340.4 453.9 340.7 456.9 341.0 460.0C341.3 463.1 341.5 463.8 342.0 468.7C342.5 473.6 342.7 481.8 344.0 489.2C345.3 496.6 348.0 504.7 350.0 513.2C352.0 521.7 355.0 535.5 356.0 540.0" stroke="#ff6a00" stroke-width="0.9"/></g><rect x="100.5" y="60.5" width="496" height="480" fill="none" stroke="#000" stroke-width="1.4"/><path d="M100.5 60v6.2M100.5 540v-6.2M162.5 60v6.2M162.5 540v-6.2M224.5 60v6.2M224.5 540v-6.2M286.5 60v6.2M286.5 540v-6.2M348.5 60v6.2M348.5 540v-6.2M410.5 60v6.2M410.5 540v-6.2M472.5 60v6.2M472.5 540v-6.2M534.5 60v6.2M534.5 540v-6.2M596.5 60v6.2M596.5 540v-6.2M100 540.5h6.3M596 540.5h-6.3M100 460.5h6.3M596 460.5h-6.3M100 380.5h6.3M596 380.5h-6.3M100 300.5h6.3M596 300.5h-6.3M100 220.5h6.3M596 220.5h-6.3M100 140.5h6.3M596 140.5h-6.3M100 60.5h6.3M596 60.5h-6.3" stroke="#000" stroke-width="1" fill="none"/><rect x="627" y="60" width="24" height="480" fill="#c40000"/><rect x="627" y="120.75" width="24" height="419.25" fill="#ff5900"/><rect x="627" y="180.75" width="24" height="359.25" fill="#ffd000"/><rect x="627" y="240.75" width="24" height="299.25" fill="#b1ff46"/><rect x="627" y="300.75" width="24" height="239.25" fill="#49ffad"/><rect x="627" y="360.75" width="24" height="179.25" fill="#00c0ff"/><rect x="627" y="420.75" width="24" height="119.25" fill="#0040ff"/><rect x="627" y="480.75" width="24" height="59.25" fill="#0000c8"/><rect x="627.5" y="60.5" width="24" height="480" fill="none" stroke="#000" stroke-width="1.4"/><path d="M651 60.75h-6M651 120.75h-6M651 180.75h-6M651 240.75h-6M651 300.75h-6M651 360.75h-6M651 420.75h-6M651 480.75h-6M651 540.75h-6" stroke="#000" stroke-width="1" fill="none"/><g font-family="Liberation Sans, sans-serif" fill="#000"><text x="41.75" y="48.1" font-size="20.4" textLength="37.78" lengthAdjust="spacingAndGlyphs">150</text><text x="86.35" y="48.1" font-size="20.4" textLength="43.64" lengthAdjust="spacingAndGlyphs">MHz</text><text x="136.05" y="48.1" font-size="20.4" textLength="59.23" lengthAdjust="spacingAndGlyphs">signal</text><text x="201.5" y="48.1" font-size="20.4" textLength="39.8" lengthAdjust="spacingAndGlyphs">PSD</text><text x="248.0" y="48.1" font-size="20.4" textLength="109.72" lengthAdjust="spacingAndGlyphs">(20120205</text><text x="358.25" y="48.1" font-size="20.4" textLength="9.08" lengthAdjust="spacingAndGlyphs">_</text><text x="367.65" y="48.1" font-size="20.4" textLength="75.93" lengthAdjust="spacingAndGlyphs">225151</text><text x="444.55" y="48.1" font-size="20.4" textLength="10.19" lengthAdjust="spacingAndGlyphs">_</text><text x="454.6" y="48.1" font-size="20.4" textLength="139.4" lengthAdjust="spacingAndGlyphs">COSMOS2463</text><text x="594.25" y="48.1" font-size="20.4" textLength="9.41" lengthAdjust="spacingAndGlyphs">_</text><text x="603.6" y="48.1" font-size="20.4" textLength="49.38" lengthAdjust="spacingAndGlyphs">TRO)</text><text x="85.25" y="545.7" font-size="16.8" textLength="9.87" lengthAdjust="spacingAndGlyphs">0</text><text x="62.9" y="466" font-size="16.8" textLength="30.8" lengthAdjust="spacingAndGlyphs">200</text><text x="64.25" y="385.9" font-size="16.8" textLength="30.36" lengthAdjust="spacingAndGlyphs">400</text><text x="62.9" y="306" font-size="16.8" textLength="30.96" lengthAdjust="spacingAndGlyphs">600</text><text x="63.15" y="225.9" font-size="16.8" textLength="30.69" lengthAdjust="spacingAndGlyphs">800</text><text x="53.2" y="145.6" font-size="16.8" textLength="41.08" lengthAdjust="spacingAndGlyphs">1000</text><text x="53.15" y="66.1" font-size="16.8" textLength="41.19" lengthAdjust="spacingAndGlyphs">1200</text><text x="66.6" y="557" font-size="16.8" textLength="64.63" lengthAdjust="spacingAndGlyphs">−20000</text><text x="129.5" y="557" font-size="16.8" textLength="64.17" lengthAdjust="spacingAndGlyphs">−15000</text><text x="192.0" y="557" font-size="16.8" textLength="63.14" lengthAdjust="spacingAndGlyphs">−10000</text><text x="258.5" y="557" font-size="16.8" textLength="54.87" lengthAdjust="spacingAndGlyphs">−5000</text><text x="341.95" y="557" font-size="16.8" textLength="10.51" lengthAdjust="spacingAndGlyphs">0</text><text x="388.15" y="557" font-size="16.8" textLength="41.34" lengthAdjust="spacingAndGlyphs">5000</text><text x="445.3" y="557" font-size="16.8" textLength="51.42" lengthAdjust="spacingAndGlyphs">10000</text><text x="507.3" y="557" font-size="16.8" textLength="51.42" lengthAdjust="spacingAndGlyphs">15000</text><text x="568.8" y="557" font-size="16.8" textLength="52.4" lengthAdjust="spacingAndGlyphs">20000</text><text x="287.65" y="575.9" font-size="16.8" textLength="122.24" lengthAdjust="spacingAndGlyphs">frequency (Hz)</text><text x="655.25" y="65.75" font-size="16.8" textLength="10.11" lengthAdjust="spacingAndGlyphs">0</text><text x="655.6" y="125.9" font-size="16.8" textLength="22.54" lengthAdjust="spacingAndGlyphs">−5</text><text x="655.6" y="185.9" font-size="16.8" textLength="33.21" lengthAdjust="spacingAndGlyphs">−10</text><text x="655.6" y="245.9" font-size="16.8" textLength="33.48" lengthAdjust="spacingAndGlyphs">−15</text><text x="655.6" y="305.9" font-size="16.8" textLength="33.21" lengthAdjust="spacingAndGlyphs">−20</text><text x="655.6" y="365.9" font-size="16.8" textLength="33.48" lengthAdjust="spacingAndGlyphs">−25</text><text x="655.6" y="425.9" font-size="16.8" textLength="33.21" lengthAdjust="spacingAndGlyphs">−30</text><text x="655.6" y="485.9" font-size="16.8" textLength="33.48" lengthAdjust="spacingAndGlyphs">−35</text><text x="655.6" y="545.9" font-size="16.8" textLength="33.21" lengthAdjust="spacingAndGlyphs">−40</text><text transform="translate(44.9,331.55) rotate(-90)" x="0" y="0" font-size="16.8" textLength="64.37" lengthAdjust="spacingAndGlyphs">time (s)</text></g></svg></body></html>
